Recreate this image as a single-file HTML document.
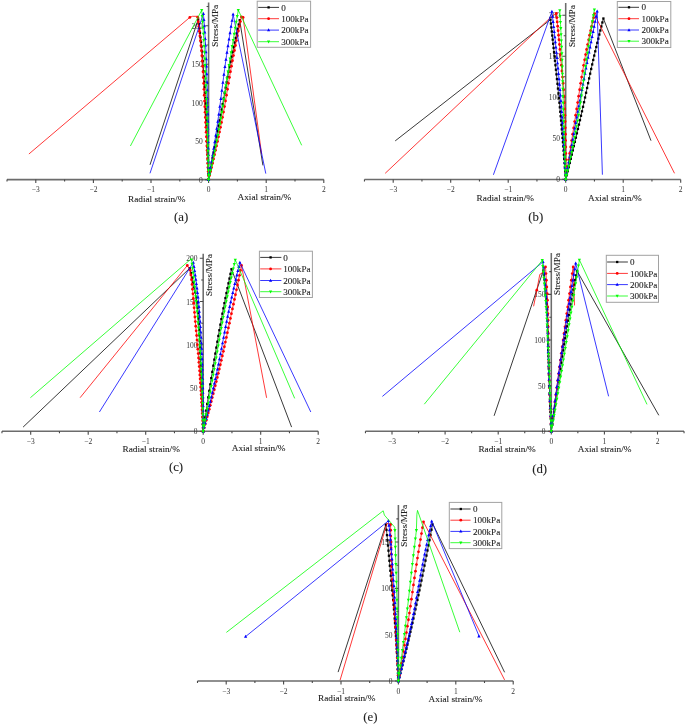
<!DOCTYPE html>
<html><head><meta charset="utf-8"><title>Stress-strain curves</title>
<style>
html,body{margin:0;padding:0;background:#fff;}
body{width:685px;height:726px;overflow:hidden;}
svg{display:block;will-change:transform;}
svg text{font-family:"Liberation Serif",serif;fill:#222;stroke:#222;stroke-width:0.1px;}
svg text.t{stroke:none;fill:#333;}
</style></head><body>
<svg width="685" height="726" viewBox="0 0 685 726">
<rect width="685" height="726" fill="#fff"/>
<g id="plot-a"><path d="M7 179.6H323.8M208.6 179.6V2.6" stroke="#6c6c6c" stroke-width="1.55" fill="none"/>
<path d="M7 179.6v2M35.8 179.6v3.4M64.6 179.6v2M93.4 179.6v3.4M122.2 179.6v2M151 179.6v3.4M179.8 179.6v2M208.6 179.6v3.4M237.4 179.6v2M266.2 179.6v3.4M295 179.6v2M323.8 179.6v3.4M208.6 179.6h-3.4M208.6 160.38h-2M208.6 141.15h-3.4M208.6 121.92h-2M208.6 102.7h-3.4M208.6 83.47h-2M208.6 64.25h-3.4M208.6 45.02h-2M208.6 25.8h-3.4M208.6 6.57h-2" stroke="#484848" stroke-width="1.1" fill="none"/>
<text x="35.8" y="192.2" class="t" font-size="7.5" text-anchor="middle">−3</text>
<text x="93.4" y="192.2" class="t" font-size="7.5" text-anchor="middle">−2</text>
<text x="151" y="192.2" class="t" font-size="7.5" text-anchor="middle">−1</text>
<text x="208.6" y="192.2" class="t" font-size="7.5" text-anchor="middle">0</text>
<text x="266.2" y="192.2" class="t" font-size="7.5" text-anchor="middle">1</text>
<text x="323.8" y="192.2" class="t" font-size="7.5" text-anchor="middle">2</text>
<text x="202.8" y="182.65" class="t" font-size="7.5" text-anchor="end">0</text>
<text x="202.8" y="144.2" class="t" font-size="7.5" text-anchor="end">50</text>
<text x="202.8" y="105.75" class="t" font-size="7.5" text-anchor="end">100</text>
<text x="202.8" y="67.3" class="t" font-size="7.5" text-anchor="end">150</text>
<text x="202.8" y="28.85" class="t" font-size="7.5" text-anchor="end">200</text>
<text x="185.4" y="201.5" font-size="9.28" text-anchor="end">Radial strain/%</text>
<text x="237.5" y="200" font-size="9.28">Axial strain/%</text>
<text transform="translate(217.9 4.8) rotate(-90)" font-size="9.2" text-anchor="end">Stress/MPa</text>
<text x="181.2" y="220.6" font-size="12.8" text-anchor="middle">(a)</text>
<path d="M208.6 179.6L208.52 176.93L208.44 174.26L208.36 171.59L208.27 168.93L208.18 166.26L208.09 163.59L208 160.92L207.9 158.25L207.8 155.59L207.7 152.92L207.6 150.25L207.49 147.58L207.39 144.91L207.28 142.24L207.17 139.57L207.05 136.91L206.94 134.24L206.82 131.57L206.71 128.9L206.59 126.23L206.46 123.56L206.34 120.9L206.22 118.23L206.09 115.56L205.97 112.89L205.84 110.22L205.71 107.55L205.58 104.89L205.44 102.22L205.31 99.55L205.17 96.88L205.02 94.21L204.88 91.54L204.73 88.88L204.57 86.21L204.42 83.54L204.25 80.87L204.09 78.2L203.92 75.53L203.74 72.87L203.56 70.2L203.37 67.53L203.17 64.86L202.97 62.19L202.76 59.53L202.54 56.86L202.3 54.19L202.05 51.52L201.79 48.85L201.51 46.18L201.22 43.52L200.92 40.85L200.6 38.18L200.28 35.51L199.95 32.84L199.61 30.17L199.27 27.5L198.92 24.84L198.56 22.17L198.2 19.5L150 164.8" stroke="#000000" stroke-width="0.78" fill="none" stroke-linejoin="round"/>
<path d="M208.6 179.6L209.09 176.94L209.58 174.29L210.08 171.63L210.57 168.97L211.06 166.32L211.56 163.66L212.05 161L212.54 158.35L213.04 155.69L213.53 153.03L214.03 150.38L214.52 147.72L215.02 145.06L215.51 142.41L216.01 139.75L216.5 137.09L217 134.44L217.5 131.78L217.99 129.12L218.49 126.47L218.99 123.81L219.48 121.15L219.98 118.5L220.48 115.84L220.97 113.18L221.46 110.53L221.95 107.87L222.43 105.21L222.92 102.56L223.41 99.9L223.9 97.24L224.38 94.59L224.87 91.93L225.36 89.27L225.86 86.62L226.35 83.96L226.85 81.3L227.35 78.65L227.86 75.99L228.37 73.33L228.88 70.68L229.4 68.02L229.92 65.36L230.45 62.71L230.99 60.05L231.53 57.39L232.08 54.74L232.64 52.08L233.2 49.42L233.77 46.77L234.34 44.11L234.92 41.45L235.5 38.8L236.09 36.14L236.68 33.48L237.28 30.83L237.88 28.17L238.48 25.51L239.09 22.86L239.7 20.2L262.9 165.4" stroke="#000000" stroke-width="0.78" fill="none" stroke-linejoin="round"/>
<rect x="207.45" y="178.45" width="2.3" height="2.3" fill="#000000"/>
<rect x="207.45" y="178.45" width="2.3" height="2.3" fill="#000000"/>
<rect x="208.45" y="173.04" width="2.3" height="2.3" fill="#000000"/>
<rect x="207.29" y="173.01" width="2.3" height="2.3" fill="#000000"/>
<rect x="209.46" y="167.63" width="2.3" height="2.3" fill="#000000"/>
<rect x="207.11" y="167.58" width="2.3" height="2.3" fill="#000000"/>
<rect x="210.46" y="162.22" width="2.3" height="2.3" fill="#000000"/>
<rect x="206.93" y="162.15" width="2.3" height="2.3" fill="#000000"/>
<rect x="211.46" y="156.83" width="2.3" height="2.3" fill="#000000"/>
<rect x="206.74" y="156.73" width="2.3" height="2.3" fill="#000000"/>
<rect x="212.47" y="151.43" width="2.3" height="2.3" fill="#000000"/>
<rect x="206.53" y="151.32" width="2.3" height="2.3" fill="#000000"/>
<rect x="213.47" y="146.05" width="2.3" height="2.3" fill="#000000"/>
<rect x="206.32" y="145.90" width="2.3" height="2.3" fill="#000000"/>
<rect x="214.47" y="140.67" width="2.3" height="2.3" fill="#000000"/>
<rect x="206.10" y="140.50" width="2.3" height="2.3" fill="#000000"/>
<rect x="215.48" y="135.29" width="2.3" height="2.3" fill="#000000"/>
<rect x="205.88" y="135.10" width="2.3" height="2.3" fill="#000000"/>
<rect x="216.48" y="129.92" width="2.3" height="2.3" fill="#000000"/>
<rect x="205.64" y="129.71" width="2.3" height="2.3" fill="#000000"/>
<rect x="217.48" y="124.55" width="2.3" height="2.3" fill="#000000"/>
<rect x="205.40" y="124.32" width="2.3" height="2.3" fill="#000000"/>
<rect x="218.49" y="119.19" width="2.3" height="2.3" fill="#000000"/>
<rect x="205.15" y="118.93" width="2.3" height="2.3" fill="#000000"/>
<rect x="219.49" y="113.81" width="2.3" height="2.3" fill="#000000"/>
<rect x="204.90" y="113.53" width="2.3" height="2.3" fill="#000000"/>
<rect x="220.49" y="108.38" width="2.3" height="2.3" fill="#000000"/>
<rect x="204.64" y="108.07" width="2.3" height="2.3" fill="#000000"/>
<rect x="221.50" y="102.92" width="2.3" height="2.3" fill="#000000"/>
<rect x="204.37" y="102.58" width="2.3" height="2.3" fill="#000000"/>
<rect x="222.50" y="97.44" width="2.3" height="2.3" fill="#000000"/>
<rect x="204.09" y="97.09" width="2.3" height="2.3" fill="#000000"/>
<rect x="223.50" y="91.98" width="2.3" height="2.3" fill="#000000"/>
<rect x="203.79" y="91.60" width="2.3" height="2.3" fill="#000000"/>
<rect x="224.50" y="86.55" width="2.3" height="2.3" fill="#000000"/>
<rect x="203.49" y="86.15" width="2.3" height="2.3" fill="#000000"/>
<rect x="225.51" y="81.17" width="2.3" height="2.3" fill="#000000"/>
<rect x="203.17" y="80.75" width="2.3" height="2.3" fill="#000000"/>
<rect x="226.51" y="75.86" width="2.3" height="2.3" fill="#000000"/>
<rect x="202.83" y="75.41" width="2.3" height="2.3" fill="#000000"/>
<rect x="227.51" y="70.63" width="2.3" height="2.3" fill="#000000"/>
<rect x="202.48" y="70.16" width="2.3" height="2.3" fill="#000000"/>
<rect x="228.52" y="65.50" width="2.3" height="2.3" fill="#000000"/>
<rect x="202.12" y="65.00" width="2.3" height="2.3" fill="#000000"/>
<rect x="229.52" y="60.47" width="2.3" height="2.3" fill="#000000"/>
<rect x="201.74" y="59.96" width="2.3" height="2.3" fill="#000000"/>
<rect x="230.52" y="55.56" width="2.3" height="2.3" fill="#000000"/>
<rect x="201.33" y="55.02" width="2.3" height="2.3" fill="#000000"/>
<rect x="231.53" y="50.75" width="2.3" height="2.3" fill="#000000"/>
<rect x="200.88" y="50.18" width="2.3" height="2.3" fill="#000000"/>
<rect x="232.53" y="46.02" width="2.3" height="2.3" fill="#000000"/>
<rect x="200.40" y="45.44" width="2.3" height="2.3" fill="#000000"/>
<rect x="233.53" y="41.38" width="2.3" height="2.3" fill="#000000"/>
<rect x="199.89" y="40.77" width="2.3" height="2.3" fill="#000000"/>
<rect x="234.54" y="36.80" width="2.3" height="2.3" fill="#000000"/>
<rect x="199.35" y="36.18" width="2.3" height="2.3" fill="#000000"/>
<rect x="235.54" y="32.29" width="2.3" height="2.3" fill="#000000"/>
<rect x="198.80" y="31.65" width="2.3" height="2.3" fill="#000000"/>
<rect x="236.54" y="27.83" width="2.3" height="2.3" fill="#000000"/>
<rect x="198.22" y="27.17" width="2.3" height="2.3" fill="#000000"/>
<rect x="237.55" y="23.42" width="2.3" height="2.3" fill="#000000"/>
<rect x="197.64" y="22.74" width="2.3" height="2.3" fill="#000000"/>
<rect x="238.55" y="19.05" width="2.3" height="2.3" fill="#000000"/>
<rect x="197.05" y="18.35" width="2.3" height="2.3" fill="#000000"/>
<path d="M208.6 179.6L208.46 176.89L208.33 174.19L208.19 171.48L208.05 168.77L207.91 166.07L207.77 163.36L207.63 160.65L207.49 157.95L207.35 155.24L207.21 152.53L207.07 149.83L206.93 147.12L206.79 144.41L206.65 141.71L206.51 139L206.36 136.29L206.22 133.59L206.08 130.88L205.94 128.17L205.79 125.47L205.65 122.76L205.5 120.05L205.36 117.35L205.22 114.64L205.08 111.93L204.95 109.23L204.81 106.52L204.68 103.81L204.55 101.11L204.42 98.4L204.28 95.69L204.15 92.99L204.01 90.28L203.88 87.57L203.73 84.87L203.59 82.16L203.44 79.45L203.29 76.75L203.13 74.04L202.96 71.33L202.79 68.63L202.62 65.92L202.43 63.21L202.24 60.51L202.03 57.8L201.82 55.09L201.59 52.39L201.34 49.68L201.09 46.97L200.82 44.27L200.54 41.56L200.26 38.85L199.96 36.15L199.66 33.44L199.35 30.73L199.03 28.03L198.7 25.32L198.37 22.61L198.04 19.91L197.7 17.2L197.4 16.3L192.4 16.3L189.8 17.4L28.9 154" stroke="#ff0000" stroke-width="0.78" fill="none" stroke-linejoin="round"/>
<path d="M208.6 179.6L209.27 176.89L209.94 174.18L210.6 171.47L211.25 168.76L211.9 166.05L212.55 163.34L213.19 160.63L213.82 157.92L214.45 155.21L215.07 152.5L215.68 149.79L216.29 147.08L216.89 144.37L217.49 141.66L218.08 138.95L218.66 136.24L219.23 133.53L219.8 130.82L220.36 128.11L220.92 125.4L221.46 122.69L222 119.98L222.53 117.27L223.05 114.56L223.56 111.85L224.05 109.14L224.54 106.43L225.02 103.72L225.49 101.01L225.95 98.3L226.41 95.59L226.87 92.88L227.33 90.17L227.78 87.46L228.24 84.75L228.69 82.04L229.15 79.33L229.62 76.62L230.08 73.91L230.56 71.2L231.04 68.49L231.52 65.78L232.02 63.07L232.53 60.36L233.05 57.65L233.57 54.94L234.1 52.23L234.64 49.52L235.18 46.81L235.72 44.1L236.27 41.39L236.82 38.68L237.38 35.97L237.94 33.26L238.51 30.55L239.08 27.84L239.66 25.13L240.23 22.42L240.82 19.71L241.4 17L243.1 17.4L261.6 154" stroke="#ff0000" stroke-width="0.78" fill="none" stroke-linejoin="round"/>
<circle cx="208.60" cy="179.60" r="1.4" fill="#ff0000"/>
<circle cx="208.60" cy="179.60" r="1.4" fill="#ff0000"/>
<circle cx="209.59" cy="175.58" r="1.4" fill="#ff0000"/>
<circle cx="208.40" cy="175.59" r="1.4" fill="#ff0000"/>
<circle cx="210.59" cy="171.52" r="1.4" fill="#ff0000"/>
<circle cx="208.19" cy="171.53" r="1.4" fill="#ff0000"/>
<circle cx="211.58" cy="167.40" r="1.4" fill="#ff0000"/>
<circle cx="207.98" cy="167.41" r="1.4" fill="#ff0000"/>
<circle cx="212.58" cy="163.23" r="1.4" fill="#ff0000"/>
<circle cx="207.77" cy="163.25" r="1.4" fill="#ff0000"/>
<circle cx="213.57" cy="159.00" r="1.4" fill="#ff0000"/>
<circle cx="207.55" cy="159.02" r="1.4" fill="#ff0000"/>
<circle cx="214.56" cy="154.70" r="1.4" fill="#ff0000"/>
<circle cx="207.33" cy="154.73" r="1.4" fill="#ff0000"/>
<circle cx="215.56" cy="150.34" r="1.4" fill="#ff0000"/>
<circle cx="207.10" cy="150.38" r="1.4" fill="#ff0000"/>
<circle cx="216.55" cy="145.91" r="1.4" fill="#ff0000"/>
<circle cx="206.87" cy="145.95" r="1.4" fill="#ff0000"/>
<circle cx="217.55" cy="141.39" r="1.4" fill="#ff0000"/>
<circle cx="206.64" cy="141.44" r="1.4" fill="#ff0000"/>
<circle cx="218.54" cy="136.79" r="1.4" fill="#ff0000"/>
<circle cx="206.39" cy="136.85" r="1.4" fill="#ff0000"/>
<circle cx="219.53" cy="132.10" r="1.4" fill="#ff0000"/>
<circle cx="206.15" cy="132.16" r="1.4" fill="#ff0000"/>
<circle cx="220.53" cy="127.31" r="1.4" fill="#ff0000"/>
<circle cx="205.89" cy="127.37" r="1.4" fill="#ff0000"/>
<circle cx="221.52" cy="122.40" r="1.4" fill="#ff0000"/>
<circle cx="205.63" cy="122.48" r="1.4" fill="#ff0000"/>
<circle cx="222.52" cy="117.36" r="1.4" fill="#ff0000"/>
<circle cx="205.36" cy="117.44" r="1.4" fill="#ff0000"/>
<circle cx="223.51" cy="112.10" r="1.4" fill="#ff0000"/>
<circle cx="205.10" cy="112.19" r="1.4" fill="#ff0000"/>
<circle cx="224.50" cy="106.62" r="1.4" fill="#ff0000"/>
<circle cx="204.82" cy="106.71" r="1.4" fill="#ff0000"/>
<circle cx="225.50" cy="100.95" r="1.4" fill="#ff0000"/>
<circle cx="204.55" cy="101.05" r="1.4" fill="#ff0000"/>
<circle cx="226.49" cy="95.13" r="1.4" fill="#ff0000"/>
<circle cx="204.26" cy="95.24" r="1.4" fill="#ff0000"/>
<circle cx="227.48" cy="89.23" r="1.4" fill="#ff0000"/>
<circle cx="203.97" cy="89.34" r="1.4" fill="#ff0000"/>
<circle cx="228.48" cy="83.32" r="1.4" fill="#ff0000"/>
<circle cx="203.66" cy="83.43" r="1.4" fill="#ff0000"/>
<circle cx="229.47" cy="77.45" r="1.4" fill="#ff0000"/>
<circle cx="203.33" cy="77.58" r="1.4" fill="#ff0000"/>
<circle cx="230.47" cy="71.71" r="1.4" fill="#ff0000"/>
<circle cx="203.00" cy="71.84" r="1.4" fill="#ff0000"/>
<circle cx="231.46" cy="66.13" r="1.4" fill="#ff0000"/>
<circle cx="202.64" cy="66.27" r="1.4" fill="#ff0000"/>
<circle cx="232.45" cy="60.77" r="1.4" fill="#ff0000"/>
<circle cx="202.27" cy="60.91" r="1.4" fill="#ff0000"/>
<circle cx="233.45" cy="55.58" r="1.4" fill="#ff0000"/>
<circle cx="201.87" cy="55.74" r="1.4" fill="#ff0000"/>
<circle cx="234.44" cy="50.50" r="1.4" fill="#ff0000"/>
<circle cx="201.43" cy="50.66" r="1.4" fill="#ff0000"/>
<circle cx="235.44" cy="45.51" r="1.4" fill="#ff0000"/>
<circle cx="200.96" cy="45.68" r="1.4" fill="#ff0000"/>
<circle cx="236.43" cy="40.60" r="1.4" fill="#ff0000"/>
<circle cx="200.46" cy="40.77" r="1.4" fill="#ff0000"/>
<circle cx="237.42" cy="35.77" r="1.4" fill="#ff0000"/>
<circle cx="199.94" cy="35.94" r="1.4" fill="#ff0000"/>
<circle cx="238.42" cy="30.99" r="1.4" fill="#ff0000"/>
<circle cx="199.40" cy="31.18" r="1.4" fill="#ff0000"/>
<circle cx="239.41" cy="26.28" r="1.4" fill="#ff0000"/>
<circle cx="198.84" cy="26.47" r="1.4" fill="#ff0000"/>
<circle cx="240.41" cy="21.62" r="1.4" fill="#ff0000"/>
<circle cx="198.28" cy="21.81" r="1.4" fill="#ff0000"/>
<circle cx="241.40" cy="17.00" r="1.4" fill="#ff0000"/>
<circle cx="197.70" cy="17.20" r="1.4" fill="#ff0000"/>
<circle cx="189.80" cy="17.40" r="1.4" fill="#ff0000"/>
<circle cx="243.10" cy="17.40" r="1.4" fill="#ff0000"/>
<path d="M208.6 179.6L208.58 176.84L208.55 174.07L208.53 171.31L208.5 168.54L208.47 165.78L208.44 163.01L208.41 160.25L208.37 157.48L208.34 154.72L208.3 151.95L208.26 149.19L208.23 146.42L208.18 143.66L208.14 140.89L208.1 138.12L208.06 135.36L208.01 132.59L207.97 129.83L207.92 127.06L207.87 124.3L207.83 121.53L207.78 118.77L207.73 116L207.68 113.24L207.63 110.47L207.57 107.71L207.52 104.94L207.46 102.18L207.41 99.41L207.35 96.65L207.28 93.88L207.22 91.12L207.15 88.35L207.08 85.59L207.01 82.82L206.94 80.06L206.86 77.29L206.78 74.53L206.69 71.76L206.61 69L206.52 66.23L206.42 63.47L206.33 60.7L206.22 57.94L206.11 55.17L205.98 52.41L205.84 49.64L205.7 46.88L205.54 44.11L205.38 41.35L205.21 38.58L205.03 35.82L204.84 33.06L204.65 30.29L204.45 27.53L204.25 24.76L204.04 22L203.83 19.23L203.62 16.47L203.4 13.7L150 173.3" stroke="#0000ff" stroke-width="0.78" fill="none" stroke-linejoin="round"/>
<path d="M208.6 179.6L209.07 176.85L209.53 174.09L210 171.34L210.46 168.59L210.91 165.83L211.36 163.08L211.81 160.33L212.26 157.57L212.7 154.82L213.14 152.07L213.58 149.31L214.01 146.56L214.44 143.81L214.87 141.05L215.29 138.3L215.71 135.55L216.12 132.79L216.53 130.04L216.94 127.29L217.34 124.53L217.74 121.78L218.14 119.03L218.53 116.27L218.91 113.52L219.28 110.77L219.65 108.01L220.01 105.26L220.36 102.51L220.71 99.75L221.06 97L221.41 94.25L221.76 91.49L222.1 88.74L222.45 85.99L222.8 83.23L223.15 80.48L223.5 77.73L223.86 74.97L224.22 72.22L224.58 69.47L224.96 66.71L225.34 63.96L225.73 61.21L226.12 58.45L226.53 55.7L226.93 52.95L227.35 50.19L227.76 47.44L228.19 44.69L228.61 41.93L229.04 39.18L229.48 36.43L229.92 33.67L230.36 30.92L230.81 28.17L231.26 25.41L231.72 22.66L232.17 19.91L232.64 17.15L233.1 14.4L265.8 173.6" stroke="#0000ff" stroke-width="0.78" fill="none" stroke-linejoin="round"/>
<path d="M208.60 177.76L210.20 180.80L207.00 180.80Z" fill="#0000ff"/>
<path d="M208.60 177.76L210.20 180.80L207.00 180.80Z" fill="#0000ff"/>
<path d="M209.62 171.74L211.22 174.78L208.02 174.78Z" fill="#0000ff"/>
<path d="M208.55 171.71L210.15 174.75L206.95 174.75Z" fill="#0000ff"/>
<path d="M210.64 165.63L212.24 168.67L209.04 168.67Z" fill="#0000ff"/>
<path d="M208.49 165.57L210.09 168.61L206.89 168.61Z" fill="#0000ff"/>
<path d="M211.66 159.42L213.26 162.46L210.06 162.46Z" fill="#0000ff"/>
<path d="M208.42 159.34L210.02 162.38L206.82 162.38Z" fill="#0000ff"/>
<path d="M212.68 153.11L214.28 156.15L211.08 156.15Z" fill="#0000ff"/>
<path d="M208.34 153.00L209.94 156.04L206.74 156.04Z" fill="#0000ff"/>
<path d="M213.70 146.68L215.30 149.72L212.10 149.72Z" fill="#0000ff"/>
<path d="M208.25 146.55L209.85 149.59L206.65 149.59Z" fill="#0000ff"/>
<path d="M214.72 140.13L216.32 143.17L213.12 143.17Z" fill="#0000ff"/>
<path d="M208.16 139.97L209.76 143.01L206.56 143.01Z" fill="#0000ff"/>
<path d="M215.75 133.45L217.35 136.49L214.15 136.49Z" fill="#0000ff"/>
<path d="M208.05 133.26L209.65 136.30L206.45 136.30Z" fill="#0000ff"/>
<path d="M216.77 126.63L218.37 129.67L215.17 129.67Z" fill="#0000ff"/>
<path d="M207.94 126.41L209.54 129.45L206.34 129.45Z" fill="#0000ff"/>
<path d="M217.79 119.64L219.39 122.68L216.19 122.68Z" fill="#0000ff"/>
<path d="M207.82 119.39L209.42 122.43L206.22 122.43Z" fill="#0000ff"/>
<path d="M218.81 112.40L220.41 115.44L217.21 115.44Z" fill="#0000ff"/>
<path d="M207.69 112.12L209.29 115.16L206.09 115.16Z" fill="#0000ff"/>
<path d="M219.83 104.78L221.43 107.82L218.23 107.82Z" fill="#0000ff"/>
<path d="M207.55 104.47L209.15 107.51L205.95 107.51Z" fill="#0000ff"/>
<path d="M220.85 96.85L222.45 99.89L219.25 99.89Z" fill="#0000ff"/>
<path d="M207.38 96.51L208.98 99.55L205.78 99.55Z" fill="#0000ff"/>
<path d="M221.87 88.75L223.47 91.79L220.27 91.79Z" fill="#0000ff"/>
<path d="M207.20 88.37L208.80 91.41L205.60 91.41Z" fill="#0000ff"/>
<path d="M222.89 80.65L224.49 83.69L221.29 83.69Z" fill="#0000ff"/>
<path d="M206.99 80.24L208.59 83.28L205.39 83.28Z" fill="#0000ff"/>
<path d="M223.91 72.70L225.51 75.74L222.31 75.74Z" fill="#0000ff"/>
<path d="M206.77 72.26L208.37 75.30L205.17 75.30Z" fill="#0000ff"/>
<path d="M224.93 65.05L226.53 68.09L223.33 68.09Z" fill="#0000ff"/>
<path d="M206.52 64.57L208.12 67.61L204.92 67.61Z" fill="#0000ff"/>
<path d="M225.95 57.78L227.55 60.82L224.35 60.82Z" fill="#0000ff"/>
<path d="M206.27 57.28L207.87 60.32L204.67 60.32Z" fill="#0000ff"/>
<path d="M226.97 50.83L228.57 53.87L225.37 53.87Z" fill="#0000ff"/>
<path d="M205.97 50.29L207.57 53.33L204.37 53.33Z" fill="#0000ff"/>
<path d="M228.00 44.09L229.60 47.13L226.40 47.13Z" fill="#0000ff"/>
<path d="M205.61 43.52L207.21 46.56L204.01 46.56Z" fill="#0000ff"/>
<path d="M229.02 37.52L230.62 40.56L227.42 40.56Z" fill="#0000ff"/>
<path d="M205.22 36.92L206.82 39.96L203.62 39.96Z" fill="#0000ff"/>
<path d="M230.04 31.10L231.64 34.14L228.44 34.14Z" fill="#0000ff"/>
<path d="M204.79 30.48L206.39 33.52L203.19 33.52Z" fill="#0000ff"/>
<path d="M231.06 24.81L232.66 27.85L229.46 27.85Z" fill="#0000ff"/>
<path d="M204.34 24.16L205.94 27.20L202.74 27.20Z" fill="#0000ff"/>
<path d="M232.08 18.64L233.68 21.68L230.48 21.68Z" fill="#0000ff"/>
<path d="M203.88 17.96L205.48 21.00L202.28 21.00Z" fill="#0000ff"/>
<path d="M233.10 12.56L234.70 15.60L231.50 15.60Z" fill="#0000ff"/>
<path d="M203.40 11.86L205.00 14.90L201.80 14.90Z" fill="#0000ff"/>
<path d="M208.6 179.6L208.54 176.78L208.49 173.95L208.43 171.13L208.37 168.31L208.3 165.48L208.24 162.66L208.17 159.84L208.11 157.01L208.04 154.19L207.97 151.37L207.9 148.54L207.82 145.72L207.75 142.9L207.67 140.07L207.6 137.25L207.52 134.43L207.44 131.6L207.36 128.78L207.28 125.96L207.19 123.13L207.11 120.31L207.02 117.49L206.94 114.66L206.85 111.84L206.76 109.02L206.68 106.19L206.58 103.37L206.49 100.55L206.4 97.72L206.3 94.9L206.2 92.08L206.1 89.25L206 86.43L205.89 83.61L205.79 80.78L205.68 77.96L205.56 75.14L205.45 72.31L205.33 69.49L205.2 66.67L205.08 63.84L204.95 61.02L204.81 58.2L204.67 55.37L204.53 52.55L204.37 49.73L204.21 46.9L204.05 44.08L203.88 41.26L203.7 38.43L203.52 35.61L203.33 32.79L203.14 29.96L202.95 27.14L202.75 24.32L202.54 21.49L202.34 18.67L202.13 15.85L201.92 13.02L201.7 10.2L130.4 146" stroke="#00ff00" stroke-width="0.78" fill="none" stroke-linejoin="round"/>
<path d="M208.6 179.6L209.23 176.78L209.86 173.95L210.48 171.13L211.09 168.31L211.7 165.48L212.3 162.66L212.9 159.84L213.49 157.01L214.07 154.19L214.65 151.37L215.22 148.54L215.78 145.72L216.34 142.9L216.89 140.07L217.44 137.25L217.97 134.43L218.5 131.6L219.02 128.78L219.54 125.96L220.05 123.13L220.55 120.31L221.04 117.49L221.51 114.66L221.98 111.84L222.44 109.02L222.89 106.19L223.33 103.37L223.77 100.55L224.2 97.72L224.62 94.9L225.04 92.08L225.46 89.25L225.88 86.43L226.3 83.61L226.71 80.78L227.13 77.96L227.55 75.14L227.98 72.31L228.41 69.49L228.84 66.67L229.29 63.84L229.74 61.02L230.19 58.2L230.65 55.37L231.11 52.55L231.58 49.73L232.04 46.9L232.51 44.08L232.98 41.26L233.46 38.43L233.93 35.61L234.41 32.79L234.89 29.96L235.37 27.14L235.85 24.32L236.34 21.49L236.83 18.67L237.32 15.85L237.81 13.02L238.3 10.2L301.7 145.3" stroke="#00ff00" stroke-width="0.78" fill="none" stroke-linejoin="round"/>
<path d="M208.60 181.44L210.20 178.40L207.00 178.40Z" fill="#00ff00"/>
<path d="M208.60 181.44L210.20 178.40L207.00 178.40Z" fill="#00ff00"/>
<path d="M209.62 176.84L211.22 173.80L208.02 173.80Z" fill="#00ff00"/>
<path d="M208.51 176.84L210.11 173.80L206.91 173.80Z" fill="#00ff00"/>
<path d="M210.65 172.18L212.25 169.14L209.05 169.14Z" fill="#00ff00"/>
<path d="M208.41 172.18L210.01 169.14L206.81 169.14Z" fill="#00ff00"/>
<path d="M211.67 167.45L213.27 164.41L210.07 164.41Z" fill="#00ff00"/>
<path d="M208.31 167.45L209.91 164.41L206.71 164.41Z" fill="#00ff00"/>
<path d="M212.70 162.63L214.30 159.59L211.10 159.59Z" fill="#00ff00"/>
<path d="M208.20 162.63L209.80 159.59L206.60 159.59Z" fill="#00ff00"/>
<path d="M213.72 157.73L215.32 154.69L212.12 154.69Z" fill="#00ff00"/>
<path d="M208.08 157.73L209.68 154.69L206.48 154.69Z" fill="#00ff00"/>
<path d="M214.74 152.74L216.34 149.70L213.14 149.70Z" fill="#00ff00"/>
<path d="M207.96 152.74L209.56 149.70L206.36 149.70Z" fill="#00ff00"/>
<path d="M215.77 147.64L217.37 144.60L214.17 144.60Z" fill="#00ff00"/>
<path d="M207.82 147.64L209.42 144.60L206.22 144.60Z" fill="#00ff00"/>
<path d="M216.79 142.43L218.39 139.39L215.19 139.39Z" fill="#00ff00"/>
<path d="M207.69 142.43L209.29 139.39L206.09 139.39Z" fill="#00ff00"/>
<path d="M217.82 137.09L219.42 134.05L216.22 134.05Z" fill="#00ff00"/>
<path d="M207.54 137.09L209.14 134.05L205.94 134.05Z" fill="#00ff00"/>
<path d="M218.84 131.62L220.44 128.58L217.24 128.58Z" fill="#00ff00"/>
<path d="M207.39 131.62L208.99 128.58L205.79 128.58Z" fill="#00ff00"/>
<path d="M219.87 125.98L221.47 122.94L218.27 122.94Z" fill="#00ff00"/>
<path d="M207.22 125.98L208.82 122.94L205.62 122.94Z" fill="#00ff00"/>
<path d="M220.89 120.17L222.49 117.13L219.29 117.13Z" fill="#00ff00"/>
<path d="M207.05 120.17L208.65 117.13L205.45 117.13Z" fill="#00ff00"/>
<path d="M221.91 114.09L223.51 111.05L220.31 111.05Z" fill="#00ff00"/>
<path d="M206.87 114.09L208.47 111.05L205.27 111.05Z" fill="#00ff00"/>
<path d="M222.94 107.72L224.54 104.68L221.34 104.68Z" fill="#00ff00"/>
<path d="M206.67 107.72L208.27 104.68L205.07 104.68Z" fill="#00ff00"/>
<path d="M223.96 101.10L225.56 98.06L222.36 98.06Z" fill="#00ff00"/>
<path d="M206.45 101.10L208.05 98.06L204.85 98.06Z" fill="#00ff00"/>
<path d="M224.99 94.29L226.59 91.25L223.39 91.25Z" fill="#00ff00"/>
<path d="M206.22 94.29L207.82 91.25L204.62 91.25Z" fill="#00ff00"/>
<path d="M226.01 87.38L227.61 84.34L224.41 84.34Z" fill="#00ff00"/>
<path d="M205.97 87.38L207.57 84.34L204.37 84.34Z" fill="#00ff00"/>
<path d="M227.03 80.46L228.63 77.42L225.43 77.42Z" fill="#00ff00"/>
<path d="M205.70 80.46L207.30 77.42L204.10 77.42Z" fill="#00ff00"/>
<path d="M228.06 73.63L229.66 70.59L226.46 70.59Z" fill="#00ff00"/>
<path d="M205.42 73.63L207.02 70.59L203.82 70.59Z" fill="#00ff00"/>
<path d="M229.08 66.98L230.68 63.94L227.48 63.94Z" fill="#00ff00"/>
<path d="M205.14 66.98L206.74 63.94L203.54 63.94Z" fill="#00ff00"/>
<path d="M230.11 60.56L231.71 57.52L228.51 57.52Z" fill="#00ff00"/>
<path d="M204.84 60.56L206.44 57.52L203.24 57.52Z" fill="#00ff00"/>
<path d="M231.13 54.28L232.73 51.24L229.53 51.24Z" fill="#00ff00"/>
<path d="M204.52 54.28L206.12 51.24L202.92 51.24Z" fill="#00ff00"/>
<path d="M232.16 48.07L233.76 45.03L230.56 45.03Z" fill="#00ff00"/>
<path d="M204.17 48.07L205.77 45.03L202.57 45.03Z" fill="#00ff00"/>
<path d="M233.18 41.93L234.78 38.89L231.58 38.89Z" fill="#00ff00"/>
<path d="M203.80 41.93L205.40 38.89L202.20 38.89Z" fill="#00ff00"/>
<path d="M234.20 35.84L235.80 32.80L232.60 32.80Z" fill="#00ff00"/>
<path d="M203.41 35.84L205.01 32.80L201.81 32.80Z" fill="#00ff00"/>
<path d="M235.23 29.82L236.83 26.78L233.63 26.78Z" fill="#00ff00"/>
<path d="M203.00 29.82L204.60 26.78L201.40 26.78Z" fill="#00ff00"/>
<path d="M236.25 23.84L237.85 20.80L234.65 20.80Z" fill="#00ff00"/>
<path d="M202.58 23.84L204.18 20.80L200.98 20.80Z" fill="#00ff00"/>
<path d="M237.28 17.92L238.88 14.88L235.68 14.88Z" fill="#00ff00"/>
<path d="M202.15 17.92L203.75 14.88L200.55 14.88Z" fill="#00ff00"/>
<path d="M238.30 12.04L239.90 9.00L236.70 9.00Z" fill="#00ff00"/>
<path d="M201.70 12.04L203.30 9.00L200.10 9.00Z" fill="#00ff00"/>
<rect x="257.2" y="1.2" width="53.4" height="46.1" fill="#fff" stroke="#a2a2a2" stroke-width="1"/>
<path d="M258.2 7.4H279" stroke="#000000" stroke-width="0.78"/>
<rect x="267.45" y="6.25" width="2.3" height="2.3" fill="#000000"/>
<text x="281.2" y="10.55" font-size="9.12">0</text>
<path d="M258.2 18.7H279" stroke="#ff0000" stroke-width="0.78"/>
<circle cx="268.60" cy="18.70" r="1.4" fill="#ff0000"/>
<text x="281.2" y="21.85" font-size="9.12">100kPa</text>
<path d="M258.2 30.1H279" stroke="#0000ff" stroke-width="0.78"/>
<path d="M268.60 28.26L270.20 31.30L267.00 31.30Z" fill="#0000ff"/>
<text x="281.2" y="33.25" font-size="9.12">200kPa</text>
<path d="M258.2 41.7H279" stroke="#00ff00" stroke-width="0.78"/>
<path d="M268.60 43.54L270.20 40.50L267.00 40.50Z" fill="#00ff00"/>
<text x="281.2" y="44.85" font-size="9.12">300kPa</text></g>
<g id="plot-b"><path d="M364.45 179.4H680.7M565.7 179.4V3.1" stroke="#6c6c6c" stroke-width="1.55" fill="none"/>
<path d="M364.45 179.4v2M393.2 179.4v3.4M421.95 179.4v2M450.7 179.4v3.4M479.45 179.4v2M508.2 179.4v3.4M536.95 179.4v2M565.7 179.4v3.4M594.45 179.4v2M623.2 179.4v3.4M651.95 179.4v2M680.7 179.4v3.4M565.7 179.4h-3.4M565.7 158.88h-2M565.7 138.35h-3.4M565.7 117.83h-2M565.7 97.3h-3.4M565.7 76.78h-2M565.7 56.25h-3.4M565.7 35.73h-2M565.7 15.2h-3.4" stroke="#484848" stroke-width="1.1" fill="none"/>
<text x="393.2" y="192" class="t" font-size="7.5" text-anchor="middle">−3</text>
<text x="450.7" y="192" class="t" font-size="7.5" text-anchor="middle">−2</text>
<text x="508.2" y="192" class="t" font-size="7.5" text-anchor="middle">−1</text>
<text x="565.7" y="192" class="t" font-size="7.5" text-anchor="middle">0</text>
<text x="623.2" y="192" class="t" font-size="7.5" text-anchor="middle">1</text>
<text x="680.7" y="192" class="t" font-size="7.5" text-anchor="middle">2</text>
<text x="559.9" y="182.45" class="t" font-size="7.5" text-anchor="end">0</text>
<text x="559.9" y="141.4" class="t" font-size="7.5" text-anchor="end">50</text>
<text x="559.9" y="100.35" class="t" font-size="7.5" text-anchor="end">100</text>
<text x="559.9" y="59.3" class="t" font-size="7.5" text-anchor="end">150</text>
<text x="559.9" y="18.25" class="t" font-size="7.5" text-anchor="end">200</text>
<text x="534" y="201.3" font-size="9.28" text-anchor="end">Radial strain/%</text>
<text x="588" y="201.2" font-size="9.28">Axial strain/%</text>
<text transform="translate(575 5.2) rotate(-90)" font-size="9.2" text-anchor="end">Stress/MPa</text>
<text x="535.8" y="221.1" font-size="12.8" text-anchor="middle">(b)</text>
<path d="M565.7 179.4L565.52 176.74L565.34 174.07L565.15 171.41L564.96 168.75L564.77 166.08L564.57 163.42L564.37 160.76L564.17 158.09L563.96 155.43L563.76 152.77L563.55 150.1L563.33 147.44L563.12 144.78L562.9 142.11L562.68 139.45L562.46 136.79L562.23 134.12L562 131.46L561.78 128.8L561.54 126.13L561.31 123.47L561.07 120.81L560.84 118.14L560.6 115.48L560.36 112.82L560.11 110.15L559.87 107.49L559.62 104.83L559.36 102.16L559.09 99.5L558.83 96.84L558.55 94.17L558.28 91.51L558 88.85L557.72 86.18L557.44 83.52L557.15 80.86L556.86 78.19L556.58 75.53L556.29 72.87L556 70.2L555.71 67.54L555.42 64.88L555.14 62.21L554.85 59.55L554.57 56.89L554.28 54.22L554 51.56L553.71 48.9L553.42 46.23L553.13 43.57L552.84 40.91L552.55 38.24L552.26 35.58L551.97 32.92L551.68 30.25L551.38 27.59L551.09 24.93L550.8 22.26L550.5 19.6L395.2 140.9" stroke="#000000" stroke-width="0.78" fill="none" stroke-linejoin="round"/>
<path d="M565.7 179.4L566.37 176.72L567.04 174.04L567.71 171.36L568.38 168.67L569.04 165.99L569.7 163.31L570.36 160.63L571.01 157.95L571.66 155.27L572.31 152.58L572.96 149.9L573.6 147.22L574.25 144.54L574.89 141.86L575.52 139.18L576.16 136.49L576.79 133.81L577.42 131.13L578.05 128.45L578.67 125.77L579.3 123.09L579.92 120.4L580.53 117.72L581.15 115.04L581.76 112.36L582.37 109.68L582.98 107L583.57 104.31L584.16 101.63L584.75 98.95L585.33 96.27L585.9 93.59L586.47 90.91L587.04 88.22L587.61 85.54L588.18 82.86L588.75 80.18L589.32 77.5L589.9 74.81L590.48 72.13L591.07 69.45L591.66 66.77L592.27 64.09L592.88 61.41L593.5 58.72L594.12 56.04L594.75 53.36L595.39 50.68L596.03 48L596.68 45.32L597.33 42.63L597.99 39.95L598.65 37.27L599.31 34.59L599.99 31.91L600.66 29.23L601.34 26.55L602.02 23.86L602.71 21.18L603.4 18.5L651 140.7" stroke="#000000" stroke-width="0.78" fill="none" stroke-linejoin="round"/>
<rect x="564.55" y="178.25" width="2.3" height="2.3" fill="#000000"/>
<rect x="564.55" y="178.25" width="2.3" height="2.3" fill="#000000"/>
<rect x="565.57" y="174.19" width="2.3" height="2.3" fill="#000000"/>
<rect x="564.28" y="174.21" width="2.3" height="2.3" fill="#000000"/>
<rect x="566.59" y="170.10" width="2.3" height="2.3" fill="#000000"/>
<rect x="563.99" y="170.15" width="2.3" height="2.3" fill="#000000"/>
<rect x="567.61" y="165.99" width="2.3" height="2.3" fill="#000000"/>
<rect x="563.70" y="166.07" width="2.3" height="2.3" fill="#000000"/>
<rect x="568.63" y="161.85" width="2.3" height="2.3" fill="#000000"/>
<rect x="563.40" y="161.96" width="2.3" height="2.3" fill="#000000"/>
<rect x="569.64" y="157.68" width="2.3" height="2.3" fill="#000000"/>
<rect x="563.09" y="157.82" width="2.3" height="2.3" fill="#000000"/>
<rect x="570.66" y="153.50" width="2.3" height="2.3" fill="#000000"/>
<rect x="562.77" y="153.66" width="2.3" height="2.3" fill="#000000"/>
<rect x="571.68" y="149.28" width="2.3" height="2.3" fill="#000000"/>
<rect x="562.44" y="149.48" width="2.3" height="2.3" fill="#000000"/>
<rect x="572.70" y="145.04" width="2.3" height="2.3" fill="#000000"/>
<rect x="562.10" y="145.27" width="2.3" height="2.3" fill="#000000"/>
<rect x="573.72" y="140.77" width="2.3" height="2.3" fill="#000000"/>
<rect x="561.76" y="141.03" width="2.3" height="2.3" fill="#000000"/>
<rect x="574.74" y="136.48" width="2.3" height="2.3" fill="#000000"/>
<rect x="561.40" y="136.77" width="2.3" height="2.3" fill="#000000"/>
<rect x="575.76" y="132.16" width="2.3" height="2.3" fill="#000000"/>
<rect x="561.04" y="132.48" width="2.3" height="2.3" fill="#000000"/>
<rect x="576.78" y="127.81" width="2.3" height="2.3" fill="#000000"/>
<rect x="560.67" y="128.16" width="2.3" height="2.3" fill="#000000"/>
<rect x="577.80" y="123.44" width="2.3" height="2.3" fill="#000000"/>
<rect x="560.29" y="123.82" width="2.3" height="2.3" fill="#000000"/>
<rect x="578.81" y="119.04" width="2.3" height="2.3" fill="#000000"/>
<rect x="559.91" y="119.44" width="2.3" height="2.3" fill="#000000"/>
<rect x="579.83" y="114.61" width="2.3" height="2.3" fill="#000000"/>
<rect x="559.51" y="115.05" width="2.3" height="2.3" fill="#000000"/>
<rect x="580.85" y="110.16" width="2.3" height="2.3" fill="#000000"/>
<rect x="559.11" y="110.62" width="2.3" height="2.3" fill="#000000"/>
<rect x="581.87" y="105.65" width="2.3" height="2.3" fill="#000000"/>
<rect x="558.70" y="106.15" width="2.3" height="2.3" fill="#000000"/>
<rect x="582.89" y="101.05" width="2.3" height="2.3" fill="#000000"/>
<rect x="558.26" y="101.57" width="2.3" height="2.3" fill="#000000"/>
<rect x="583.91" y="96.35" width="2.3" height="2.3" fill="#000000"/>
<rect x="557.80" y="96.91" width="2.3" height="2.3" fill="#000000"/>
<rect x="584.93" y="91.60" width="2.3" height="2.3" fill="#000000"/>
<rect x="557.32" y="92.19" width="2.3" height="2.3" fill="#000000"/>
<rect x="585.95" y="86.81" width="2.3" height="2.3" fill="#000000"/>
<rect x="556.82" y="87.43" width="2.3" height="2.3" fill="#000000"/>
<rect x="586.97" y="82.01" width="2.3" height="2.3" fill="#000000"/>
<rect x="556.32" y="82.67" width="2.3" height="2.3" fill="#000000"/>
<rect x="587.99" y="77.23" width="2.3" height="2.3" fill="#000000"/>
<rect x="555.81" y="77.92" width="2.3" height="2.3" fill="#000000"/>
<rect x="589.00" y="72.49" width="2.3" height="2.3" fill="#000000"/>
<rect x="555.30" y="73.22" width="2.3" height="2.3" fill="#000000"/>
<rect x="590.02" y="67.83" width="2.3" height="2.3" fill="#000000"/>
<rect x="554.80" y="68.59" width="2.3" height="2.3" fill="#000000"/>
<rect x="591.04" y="63.26" width="2.3" height="2.3" fill="#000000"/>
<rect x="554.31" y="64.05" width="2.3" height="2.3" fill="#000000"/>
<rect x="592.06" y="58.80" width="2.3" height="2.3" fill="#000000"/>
<rect x="553.83" y="59.62" width="2.3" height="2.3" fill="#000000"/>
<rect x="593.08" y="54.43" width="2.3" height="2.3" fill="#000000"/>
<rect x="553.37" y="55.28" width="2.3" height="2.3" fill="#000000"/>
<rect x="594.10" y="50.12" width="2.3" height="2.3" fill="#000000"/>
<rect x="552.91" y="51.00" width="2.3" height="2.3" fill="#000000"/>
<rect x="595.12" y="45.87" width="2.3" height="2.3" fill="#000000"/>
<rect x="552.45" y="46.77" width="2.3" height="2.3" fill="#000000"/>
<rect x="596.14" y="41.67" width="2.3" height="2.3" fill="#000000"/>
<rect x="552.00" y="42.60" width="2.3" height="2.3" fill="#000000"/>
<rect x="597.16" y="37.51" width="2.3" height="2.3" fill="#000000"/>
<rect x="551.55" y="38.47" width="2.3" height="2.3" fill="#000000"/>
<rect x="598.17" y="33.40" width="2.3" height="2.3" fill="#000000"/>
<rect x="551.11" y="34.39" width="2.3" height="2.3" fill="#000000"/>
<rect x="599.19" y="29.33" width="2.3" height="2.3" fill="#000000"/>
<rect x="550.67" y="30.35" width="2.3" height="2.3" fill="#000000"/>
<rect x="600.21" y="25.30" width="2.3" height="2.3" fill="#000000"/>
<rect x="550.22" y="26.35" width="2.3" height="2.3" fill="#000000"/>
<rect x="601.23" y="21.31" width="2.3" height="2.3" fill="#000000"/>
<rect x="549.79" y="22.38" width="2.3" height="2.3" fill="#000000"/>
<rect x="602.25" y="17.35" width="2.3" height="2.3" fill="#000000"/>
<rect x="549.35" y="18.45" width="2.3" height="2.3" fill="#000000"/>
<path d="M565.7 179.4L565.76 176.64L565.81 173.87L565.84 171.11L565.87 168.34L565.88 165.58L565.88 162.81L565.87 160.05L565.85 157.28L565.82 154.52L565.79 151.75L565.74 148.99L565.7 146.22L565.64 143.46L565.58 140.69L565.52 137.93L565.45 135.16L565.38 132.4L565.31 129.63L565.23 126.87L565.16 124.1L565.09 121.34L565.01 118.57L564.94 115.81L564.87 113.04L564.81 110.28L564.73 107.51L564.63 104.75L564.49 101.98L564.34 99.22L564.16 96.45L563.97 93.68L563.75 90.92L563.53 88.16L563.29 85.39L563.04 82.62L562.78 79.86L562.51 77.09L562.25 74.33L561.98 71.56L561.71 68.8L561.45 66.03L561.19 63.27L560.94 60.5L560.7 57.74L560.45 54.97L560.2 52.21L559.95 49.44L559.69 46.68L559.43 43.91L559.16 41.15L558.89 38.38L558.61 35.62L558.34 32.86L558.05 30.09L557.77 27.33L557.48 24.56L557.19 21.8L556.9 19.03L556.6 16.27L556.3 13.5L551.5 16.6L385.2 173.3" stroke="#ff0000" stroke-width="0.78" fill="none" stroke-linejoin="round"/>
<path d="M565.7 179.4L566.12 176.64L566.54 173.87L566.96 171.11L567.39 168.35L567.81 165.58L568.23 162.82L568.66 160.06L569.09 157.29L569.51 154.53L569.94 151.77L570.37 149L570.8 146.24L571.23 143.48L571.66 140.71L572.09 137.95L572.53 135.19L572.96 132.42L573.39 129.66L573.83 126.9L574.26 124.13L574.7 121.37L575.14 118.61L575.57 115.84L576.01 113.08L576.45 110.32L576.89 107.55L577.32 104.79L577.75 102.03L578.18 99.26L578.6 96.5L579.03 93.74L579.46 90.97L579.88 88.21L580.32 85.45L580.75 82.68L581.19 79.92L581.64 77.16L582.09 74.39L582.55 71.63L583.02 68.87L583.5 66.1L583.99 63.34L584.49 60.58L585.01 57.81L585.54 55.05L586.07 52.29L586.62 49.52L587.18 46.76L587.75 44L588.33 41.23L588.92 38.47L589.51 35.71L590.12 32.94L590.74 30.18L591.36 27.42L591.99 24.65L592.63 21.89L593.28 19.13L593.94 16.36L594.6 13.6L595.4 16.2L674.5 173.3" stroke="#ff0000" stroke-width="0.78" fill="none" stroke-linejoin="round"/>
<circle cx="565.70" cy="179.40" r="1.4" fill="#ff0000"/>
<circle cx="565.70" cy="179.40" r="1.4" fill="#ff0000"/>
<circle cx="566.70" cy="172.86" r="1.4" fill="#ff0000"/>
<circle cx="565.82" cy="172.85" r="1.4" fill="#ff0000"/>
<circle cx="567.69" cy="166.35" r="1.4" fill="#ff0000"/>
<circle cx="565.88" cy="166.34" r="1.4" fill="#ff0000"/>
<circle cx="568.69" cy="159.86" r="1.4" fill="#ff0000"/>
<circle cx="565.87" cy="159.85" r="1.4" fill="#ff0000"/>
<circle cx="569.69" cy="153.41" r="1.4" fill="#ff0000"/>
<circle cx="565.81" cy="153.40" r="1.4" fill="#ff0000"/>
<circle cx="570.68" cy="146.99" r="1.4" fill="#ff0000"/>
<circle cx="565.71" cy="146.97" r="1.4" fill="#ff0000"/>
<circle cx="571.68" cy="140.59" r="1.4" fill="#ff0000"/>
<circle cx="565.58" cy="140.57" r="1.4" fill="#ff0000"/>
<circle cx="572.68" cy="134.22" r="1.4" fill="#ff0000"/>
<circle cx="565.43" cy="134.20" r="1.4" fill="#ff0000"/>
<circle cx="573.67" cy="127.88" r="1.4" fill="#ff0000"/>
<circle cx="565.26" cy="127.85" r="1.4" fill="#ff0000"/>
<circle cx="574.67" cy="121.56" r="1.4" fill="#ff0000"/>
<circle cx="565.09" cy="121.52" r="1.4" fill="#ff0000"/>
<circle cx="575.67" cy="115.26" r="1.4" fill="#ff0000"/>
<circle cx="564.93" cy="115.22" r="1.4" fill="#ff0000"/>
<circle cx="576.66" cy="108.98" r="1.4" fill="#ff0000"/>
<circle cx="564.77" cy="108.94" r="1.4" fill="#ff0000"/>
<circle cx="577.66" cy="102.61" r="1.4" fill="#ff0000"/>
<circle cx="564.52" cy="102.57" r="1.4" fill="#ff0000"/>
<circle cx="578.66" cy="96.16" r="1.4" fill="#ff0000"/>
<circle cx="564.14" cy="96.11" r="1.4" fill="#ff0000"/>
<circle cx="579.65" cy="89.70" r="1.4" fill="#ff0000"/>
<circle cx="563.65" cy="89.65" r="1.4" fill="#ff0000"/>
<circle cx="580.65" cy="83.33" r="1.4" fill="#ff0000"/>
<circle cx="563.09" cy="83.27" r="1.4" fill="#ff0000"/>
<circle cx="581.64" cy="77.10" r="1.4" fill="#ff0000"/>
<circle cx="562.51" cy="77.04" r="1.4" fill="#ff0000"/>
<circle cx="582.64" cy="71.09" r="1.4" fill="#ff0000"/>
<circle cx="561.93" cy="71.02" r="1.4" fill="#ff0000"/>
<circle cx="583.64" cy="65.32" r="1.4" fill="#ff0000"/>
<circle cx="561.38" cy="65.25" r="1.4" fill="#ff0000"/>
<circle cx="584.63" cy="59.81" r="1.4" fill="#ff0000"/>
<circle cx="560.88" cy="59.74" r="1.4" fill="#ff0000"/>
<circle cx="585.63" cy="54.55" r="1.4" fill="#ff0000"/>
<circle cx="560.41" cy="54.48" r="1.4" fill="#ff0000"/>
<circle cx="586.63" cy="49.49" r="1.4" fill="#ff0000"/>
<circle cx="559.94" cy="49.41" r="1.4" fill="#ff0000"/>
<circle cx="587.62" cy="44.60" r="1.4" fill="#ff0000"/>
<circle cx="559.48" cy="44.51" r="1.4" fill="#ff0000"/>
<circle cx="588.62" cy="39.85" r="1.4" fill="#ff0000"/>
<circle cx="559.02" cy="39.76" r="1.4" fill="#ff0000"/>
<circle cx="589.62" cy="35.23" r="1.4" fill="#ff0000"/>
<circle cx="558.57" cy="35.14" r="1.4" fill="#ff0000"/>
<circle cx="590.61" cy="30.72" r="1.4" fill="#ff0000"/>
<circle cx="558.11" cy="30.63" r="1.4" fill="#ff0000"/>
<circle cx="591.61" cy="26.32" r="1.4" fill="#ff0000"/>
<circle cx="557.66" cy="26.22" r="1.4" fill="#ff0000"/>
<circle cx="592.61" cy="22.00" r="1.4" fill="#ff0000"/>
<circle cx="557.20" cy="21.91" r="1.4" fill="#ff0000"/>
<circle cx="593.60" cy="17.76" r="1.4" fill="#ff0000"/>
<circle cx="556.75" cy="17.67" r="1.4" fill="#ff0000"/>
<circle cx="594.60" cy="13.60" r="1.4" fill="#ff0000"/>
<circle cx="556.30" cy="13.50" r="1.4" fill="#ff0000"/>
<path d="M565.7 179.4L565.58 176.6L565.45 173.81L565.32 171.01L565.19 168.21L565.05 165.42L564.91 162.62L564.76 159.82L564.61 157.03L564.46 154.23L564.3 151.43L564.14 148.64L563.97 145.84L563.8 143.04L563.63 140.25L563.46 137.45L563.28 134.65L563.1 131.86L562.91 129.06L562.73 126.26L562.54 123.47L562.35 120.67L562.16 117.87L561.96 115.08L561.76 112.28L561.56 109.48L561.36 106.69L561.15 103.89L560.93 101.09L560.7 98.3L560.47 95.5L560.24 92.7L560 89.91L559.75 87.11L559.5 84.31L559.25 81.52L558.99 78.72L558.73 75.92L558.47 73.13L558.2 70.33L557.93 67.53L557.66 64.74L557.39 61.94L557.12 59.14L556.84 56.35L556.56 53.55L556.27 50.75L555.99 47.96L555.69 45.16L555.4 42.36L555.1 39.57L554.79 36.77L554.48 33.97L554.17 31.18L553.86 28.38L553.54 25.58L553.22 22.79L552.89 19.99L552.57 17.19L552.23 14.4L551.9 11.6L493.4 174.8" stroke="#0000ff" stroke-width="0.78" fill="none" stroke-linejoin="round"/>
<path d="M565.7 179.4L566.19 176.6L566.69 173.8L567.18 171L567.68 168.2L568.17 165.4L568.67 162.6L569.17 159.8L569.67 157L570.17 154.2L570.67 151.4L571.17 148.6L571.68 145.8L572.18 143L572.69 140.2L573.19 137.4L573.7 134.6L574.21 131.8L574.72 129L575.23 126.2L575.74 123.4L576.25 120.6L576.77 117.8L577.28 115L577.8 112.2L578.31 109.4L578.83 106.6L579.34 103.8L579.86 101L580.38 98.2L580.9 95.4L581.42 92.6L581.95 89.8L582.47 87L583 84.2L583.52 81.4L584.05 78.6L584.58 75.8L585.11 73L585.65 70.2L586.18 67.4L586.72 64.6L587.25 61.8L587.79 59L588.33 56.2L588.88 53.4L589.42 50.6L589.97 47.8L590.51 45L591.06 42.2L591.61 39.4L592.16 36.6L592.72 33.8L593.27 31L593.83 28.2L594.39 25.4L594.95 22.6L595.51 19.8L596.07 17L596.63 14.2L597.2 11.4L602.4 174.7" stroke="#0000ff" stroke-width="0.78" fill="none" stroke-linejoin="round"/>
<path d="M565.70 177.56L567.30 180.60L564.10 180.60Z" fill="#0000ff"/>
<path d="M565.70 177.56L567.30 180.60L564.10 180.60Z" fill="#0000ff"/>
<path d="M566.72 171.78L568.32 174.82L565.12 174.82Z" fill="#0000ff"/>
<path d="M565.45 171.79L567.05 174.83L563.85 174.83Z" fill="#0000ff"/>
<path d="M567.73 166.04L569.33 169.08L566.13 169.08Z" fill="#0000ff"/>
<path d="M565.17 166.05L566.77 169.09L563.57 169.09Z" fill="#0000ff"/>
<path d="M568.75 160.31L570.35 163.35L567.15 163.35Z" fill="#0000ff"/>
<path d="M564.89 160.34L566.49 163.38L563.29 163.38Z" fill="#0000ff"/>
<path d="M569.76 154.62L571.36 157.66L568.16 157.66Z" fill="#0000ff"/>
<path d="M564.58 154.64L566.18 157.68L562.98 157.68Z" fill="#0000ff"/>
<path d="M570.78 148.94L572.38 151.98L569.18 151.98Z" fill="#0000ff"/>
<path d="M564.26 148.98L565.86 152.02L562.66 152.02Z" fill="#0000ff"/>
<path d="M571.80 143.29L573.40 146.33L570.20 146.33Z" fill="#0000ff"/>
<path d="M563.93 143.33L565.53 146.37L562.33 146.37Z" fill="#0000ff"/>
<path d="M572.81 137.67L574.41 140.71L571.21 140.71Z" fill="#0000ff"/>
<path d="M563.59 137.71L565.19 140.75L561.99 140.75Z" fill="#0000ff"/>
<path d="M573.83 132.06L575.43 135.10L572.23 135.10Z" fill="#0000ff"/>
<path d="M563.23 132.11L564.83 135.15L561.63 135.15Z" fill="#0000ff"/>
<path d="M574.85 126.47L576.45 129.51L573.25 129.51Z" fill="#0000ff"/>
<path d="M562.87 126.53L564.47 129.57L561.27 129.57Z" fill="#0000ff"/>
<path d="M575.86 120.90L577.46 123.94L574.26 123.94Z" fill="#0000ff"/>
<path d="M562.49 120.97L564.09 124.01L560.89 124.01Z" fill="#0000ff"/>
<path d="M576.88 115.36L578.48 118.40L575.28 118.40Z" fill="#0000ff"/>
<path d="M562.11 115.43L563.71 118.47L560.51 118.47Z" fill="#0000ff"/>
<path d="M577.89 109.82L579.49 112.86L576.29 112.86Z" fill="#0000ff"/>
<path d="M561.72 109.91L563.32 112.95L560.12 112.95Z" fill="#0000ff"/>
<path d="M578.91 104.31L580.51 107.35L577.31 107.35Z" fill="#0000ff"/>
<path d="M561.32 104.40L562.92 107.44L559.72 107.44Z" fill="#0000ff"/>
<path d="M579.93 98.82L581.53 101.86L578.33 101.86Z" fill="#0000ff"/>
<path d="M560.90 98.91L562.50 101.95L559.30 101.95Z" fill="#0000ff"/>
<path d="M580.94 93.35L582.54 96.39L579.34 96.39Z" fill="#0000ff"/>
<path d="M560.46 93.45L562.06 96.49L558.86 96.49Z" fill="#0000ff"/>
<path d="M581.96 87.90L583.56 90.94L580.36 90.94Z" fill="#0000ff"/>
<path d="M559.99 88.01L561.59 91.05L558.39 91.05Z" fill="#0000ff"/>
<path d="M582.97 82.48L584.57 85.52L581.37 85.52Z" fill="#0000ff"/>
<path d="M559.51 82.60L561.11 85.64L557.91 85.64Z" fill="#0000ff"/>
<path d="M583.99 77.09L585.59 80.13L582.39 80.13Z" fill="#0000ff"/>
<path d="M559.02 77.21L560.62 80.25L557.42 80.25Z" fill="#0000ff"/>
<path d="M585.01 71.72L586.61 74.76L583.41 74.76Z" fill="#0000ff"/>
<path d="M558.52 71.85L560.12 74.89L556.92 74.89Z" fill="#0000ff"/>
<path d="M586.02 66.38L587.62 69.42L584.42 69.42Z" fill="#0000ff"/>
<path d="M558.01 66.52L559.61 69.56L556.41 69.56Z" fill="#0000ff"/>
<path d="M587.04 61.08L588.64 64.12L585.44 64.12Z" fill="#0000ff"/>
<path d="M557.50 61.22L559.10 64.26L555.90 64.26Z" fill="#0000ff"/>
<path d="M588.05 55.80L589.65 58.84L586.45 58.84Z" fill="#0000ff"/>
<path d="M556.98 55.95L558.58 58.99L555.38 58.99Z" fill="#0000ff"/>
<path d="M589.07 50.56L590.67 53.60L587.47 53.60Z" fill="#0000ff"/>
<path d="M556.46 50.71L558.06 53.75L554.86 53.75Z" fill="#0000ff"/>
<path d="M590.09 45.34L591.69 48.38L588.49 48.38Z" fill="#0000ff"/>
<path d="M555.92 45.50L557.52 48.54L554.32 48.54Z" fill="#0000ff"/>
<path d="M591.10 40.15L592.70 43.19L589.50 43.19Z" fill="#0000ff"/>
<path d="M555.37 40.31L556.97 43.35L553.77 43.35Z" fill="#0000ff"/>
<path d="M592.12 34.99L593.72 38.03L590.52 38.03Z" fill="#0000ff"/>
<path d="M554.82 35.16L556.42 38.20L553.22 38.20Z" fill="#0000ff"/>
<path d="M593.14 29.85L594.74 32.89L591.54 32.89Z" fill="#0000ff"/>
<path d="M554.25 30.03L555.85 33.07L552.65 33.07Z" fill="#0000ff"/>
<path d="M594.15 24.74L595.75 27.78L592.55 27.78Z" fill="#0000ff"/>
<path d="M553.67 24.92L555.27 27.96L552.07 27.96Z" fill="#0000ff"/>
<path d="M595.17 19.66L596.77 22.70L593.57 22.70Z" fill="#0000ff"/>
<path d="M553.09 19.84L554.69 22.88L551.49 22.88Z" fill="#0000ff"/>
<path d="M596.18 14.60L597.78 17.64L594.58 17.64Z" fill="#0000ff"/>
<path d="M552.50 14.79L554.10 17.83L550.90 17.83Z" fill="#0000ff"/>
<path d="M597.20 9.56L598.80 12.60L595.60 12.60Z" fill="#0000ff"/>
<path d="M551.90 9.76L553.50 12.80L550.30 12.80Z" fill="#0000ff"/>
<path d="M565.7 179.4L565.6 176.58L565.49 173.77L565.39 170.95L565.29 168.13L565.19 165.32L565.09 162.5L564.99 159.68L564.89 156.87L564.79 154.05L564.7 151.23L564.6 148.42L564.51 145.6L564.41 142.78L564.32 139.97L564.23 137.15L564.14 134.33L564.05 131.52L563.96 128.7L563.88 125.88L563.79 123.07L563.7 120.25L563.62 117.43L563.53 114.62L563.45 111.8L563.37 108.98L563.29 106.17L563.22 103.35L563.15 100.53L563.08 97.72L563.01 94.9L562.94 92.08L562.88 89.27L562.81 86.45L562.75 83.63L562.68 80.82L562.61 78L562.54 75.18L562.47 72.37L562.39 69.55L562.31 66.73L562.23 63.92L562.14 61.1L562.04 58.28L561.94 55.47L561.84 52.65L561.73 49.83L561.62 47.02L561.5 44.2L561.38 41.38L561.25 38.57L561.12 35.75L560.99 32.93L560.85 30.12L560.71 27.3L560.56 24.48L560.42 21.67L560.27 18.85L560.11 16.03L559.96 13.22L559.8 10.4" stroke="#00ff00" stroke-width="0.78" fill="none" stroke-linejoin="round"/>
<path d="M565.7 179.4L566.35 176.57L566.99 173.74L567.63 170.91L568.25 168.08L568.87 165.25L569.49 162.42L570.09 159.59L570.69 156.76L571.28 153.93L571.86 151.1L572.43 148.27L573 145.44L573.56 142.61L574.11 139.78L574.65 136.95L575.18 134.12L575.71 131.29L576.23 128.46L576.73 125.63L577.24 122.8L577.73 119.97L578.21 117.14L578.69 114.31L579.16 111.48L579.62 108.65L580.06 105.82L580.49 102.99L580.91 100.16L581.31 97.33L581.71 94.5L582.09 91.67L582.47 88.84L582.85 86.01L583.23 83.18L583.6 80.35L583.97 77.52L584.35 74.69L584.73 71.86L585.11 69.03L585.51 66.2L585.91 63.37L586.32 60.54L586.74 57.71L587.17 54.88L587.6 52.05L588.03 49.22L588.46 46.39L588.9 43.56L589.34 40.73L589.79 37.9L590.24 35.07L590.69 32.24L591.14 29.41L591.6 26.58L592.06 23.75L592.52 20.92L592.99 18.09L593.45 15.26L593.93 12.43L594.4 9.6" stroke="#00ff00" stroke-width="0.78" fill="none" stroke-linejoin="round"/>
<path d="M565.70 181.24L567.30 178.20L564.10 178.20Z" fill="#00ff00"/>
<path d="M565.70 181.24L567.30 178.20L564.10 178.20Z" fill="#00ff00"/>
<path d="M566.69 176.91L568.29 173.87L565.09 173.87Z" fill="#00ff00"/>
<path d="M565.54 176.93L567.14 173.89L563.94 173.89Z" fill="#00ff00"/>
<path d="M567.68 172.51L569.28 169.47L566.08 169.47Z" fill="#00ff00"/>
<path d="M565.38 172.55L566.98 169.51L563.78 169.51Z" fill="#00ff00"/>
<path d="M568.67 168.03L570.27 164.99L567.07 164.99Z" fill="#00ff00"/>
<path d="M565.22 168.09L566.82 165.05L563.62 165.05Z" fill="#00ff00"/>
<path d="M569.66 163.45L571.26 160.41L568.06 160.41Z" fill="#00ff00"/>
<path d="M565.06 163.54L566.66 160.50L563.46 160.50Z" fill="#00ff00"/>
<path d="M570.65 158.78L572.25 155.74L569.05 155.74Z" fill="#00ff00"/>
<path d="M564.90 158.89L566.50 155.85L563.30 155.85Z" fill="#00ff00"/>
<path d="M571.64 154.01L573.24 150.97L570.04 150.97Z" fill="#00ff00"/>
<path d="M564.73 154.14L566.33 151.10L563.13 151.10Z" fill="#00ff00"/>
<path d="M572.63 149.13L574.23 146.09L571.03 146.09Z" fill="#00ff00"/>
<path d="M564.57 149.28L566.17 146.24L562.97 146.24Z" fill="#00ff00"/>
<path d="M573.62 144.13L575.22 141.09L572.02 141.09Z" fill="#00ff00"/>
<path d="M564.40 144.31L566.00 141.27L562.80 141.27Z" fill="#00ff00"/>
<path d="M574.61 139.00L576.21 135.96L573.01 135.96Z" fill="#00ff00"/>
<path d="M564.24 139.20L565.84 136.16L562.64 136.16Z" fill="#00ff00"/>
<path d="M575.60 133.73L577.20 130.69L574.00 130.69Z" fill="#00ff00"/>
<path d="M564.07 133.95L565.67 130.91L562.47 130.91Z" fill="#00ff00"/>
<path d="M576.59 128.30L578.19 125.26L574.99 125.26Z" fill="#00ff00"/>
<path d="M563.90 128.55L565.50 125.51L562.30 125.51Z" fill="#00ff00"/>
<path d="M577.58 122.70L579.18 119.66L575.98 119.66Z" fill="#00ff00"/>
<path d="M563.73 122.97L565.33 119.93L562.13 119.93Z" fill="#00ff00"/>
<path d="M578.57 116.90L580.17 113.86L576.97 113.86Z" fill="#00ff00"/>
<path d="M563.56 117.20L565.16 114.16L561.96 114.16Z" fill="#00ff00"/>
<path d="M579.56 110.88L581.16 107.84L577.96 107.84Z" fill="#00ff00"/>
<path d="M563.38 111.21L564.98 108.17L561.78 108.17Z" fill="#00ff00"/>
<path d="M580.54 104.46L582.14 101.42L578.94 101.42Z" fill="#00ff00"/>
<path d="M563.21 104.82L564.81 101.78L561.61 101.78Z" fill="#00ff00"/>
<path d="M581.53 97.57L583.13 94.53L579.93 94.53Z" fill="#00ff00"/>
<path d="M563.04 97.97L564.64 94.93L561.44 94.93Z" fill="#00ff00"/>
<path d="M582.52 90.31L584.12 87.27L580.92 87.27Z" fill="#00ff00"/>
<path d="M562.87 90.74L564.47 87.70L561.27 87.70Z" fill="#00ff00"/>
<path d="M583.51 82.83L585.11 79.79L581.91 79.79Z" fill="#00ff00"/>
<path d="M562.69 83.29L564.29 80.25L561.09 80.25Z" fill="#00ff00"/>
<path d="M584.50 75.36L586.10 72.32L582.90 72.32Z" fill="#00ff00"/>
<path d="M562.51 75.86L564.11 72.82L560.91 72.82Z" fill="#00ff00"/>
<path d="M585.49 68.13L587.09 65.09L583.89 65.09Z" fill="#00ff00"/>
<path d="M562.31 68.66L563.91 65.62L560.71 65.62Z" fill="#00ff00"/>
<path d="M586.48 61.28L588.08 58.24L584.88 58.24Z" fill="#00ff00"/>
<path d="M562.10 61.85L563.70 58.81L560.50 58.81Z" fill="#00ff00"/>
<path d="M587.47 54.70L589.07 51.66L585.87 51.66Z" fill="#00ff00"/>
<path d="M561.87 55.30L563.47 52.26L560.27 52.26Z" fill="#00ff00"/>
<path d="M588.46 48.23L590.06 45.19L586.86 45.19Z" fill="#00ff00"/>
<path d="M561.62 48.86L563.22 45.82L560.02 45.82Z" fill="#00ff00"/>
<path d="M589.45 41.87L591.05 38.83L587.85 38.83Z" fill="#00ff00"/>
<path d="M561.35 42.53L562.95 39.49L559.75 39.49Z" fill="#00ff00"/>
<path d="M590.44 35.61L592.04 32.57L588.84 32.57Z" fill="#00ff00"/>
<path d="M561.06 36.30L562.66 33.26L559.46 33.26Z" fill="#00ff00"/>
<path d="M591.43 29.44L593.03 26.40L589.83 26.40Z" fill="#00ff00"/>
<path d="M560.76 30.16L562.36 27.12L559.16 27.12Z" fill="#00ff00"/>
<path d="M592.42 23.36L594.02 20.32L590.82 20.32Z" fill="#00ff00"/>
<path d="M560.45 24.11L562.05 21.07L558.85 21.07Z" fill="#00ff00"/>
<path d="M593.41 17.36L595.01 14.32L591.81 14.32Z" fill="#00ff00"/>
<path d="M560.13 18.14L561.73 15.10L558.53 15.10Z" fill="#00ff00"/>
<path d="M594.40 11.44L596.00 8.40L592.80 8.40Z" fill="#00ff00"/>
<path d="M559.80 12.24L561.40 9.20L558.20 9.20Z" fill="#00ff00"/>
<rect x="617.3" y="1.5" width="53.5" height="46" fill="#fff" stroke="#a2a2a2" stroke-width="1"/>
<path d="M618.4 7.3H639" stroke="#000000" stroke-width="0.78"/>
<rect x="627.85" y="6.15" width="2.3" height="2.3" fill="#000000"/>
<text x="641.4" y="10.45" font-size="9.12">0</text>
<path d="M618.4 18.7H639" stroke="#ff0000" stroke-width="0.78"/>
<circle cx="629.00" cy="18.70" r="1.4" fill="#ff0000"/>
<text x="641.4" y="21.85" font-size="9.12">100kPa</text>
<path d="M618.4 30H639" stroke="#0000ff" stroke-width="0.78"/>
<path d="M629.00 28.16L630.60 31.20L627.40 31.20Z" fill="#0000ff"/>
<text x="641.4" y="33.15" font-size="9.12">200kPa</text>
<path d="M618.4 41.2H639" stroke="#00ff00" stroke-width="0.78"/>
<path d="M629.00 43.04L630.60 40.00L627.40 40.00Z" fill="#00ff00"/>
<text x="641.4" y="44.35" font-size="9.12">300kPa</text></g>
<g id="plot-c"><path d="M1.95 431.3H318.2M203.2 431.3V253.8" stroke="#6c6c6c" stroke-width="1.55" fill="none"/>
<path d="M1.95 431.3v2M30.7 431.3v3.4M59.45 431.3v2M88.2 431.3v3.4M116.95 431.3v2M145.7 431.3v3.4M174.45 431.3v2M203.2 431.3v3.4M231.95 431.3v2M260.7 431.3v3.4M289.45 431.3v2M318.2 431.3v3.4M203.2 431.3h-3.4M203.2 409.68h-2M203.2 388.05h-3.4M203.2 366.43h-2M203.2 344.8h-3.4M203.2 323.18h-2M203.2 301.55h-3.4M203.2 279.93h-2M203.2 258.3h-3.4" stroke="#484848" stroke-width="1.1" fill="none"/>
<text x="30.7" y="443.9" class="t" font-size="7.5" text-anchor="middle">−3</text>
<text x="88.2" y="443.9" class="t" font-size="7.5" text-anchor="middle">−2</text>
<text x="145.7" y="443.9" class="t" font-size="7.5" text-anchor="middle">−1</text>
<text x="203.2" y="443.9" class="t" font-size="7.5" text-anchor="middle">0</text>
<text x="260.7" y="443.9" class="t" font-size="7.5" text-anchor="middle">1</text>
<text x="318.2" y="443.9" class="t" font-size="7.5" text-anchor="middle">2</text>
<text x="197.4" y="434.35" class="t" font-size="7.5" text-anchor="end">0</text>
<text x="197.4" y="391.1" class="t" font-size="7.5" text-anchor="end">50</text>
<text x="197.4" y="347.85" class="t" font-size="7.5" text-anchor="end">100</text>
<text x="197.4" y="304.6" class="t" font-size="7.5" text-anchor="end">150</text>
<text x="197.4" y="261.35" class="t" font-size="7.5" text-anchor="end">200</text>
<text x="179.9" y="452" font-size="9.28" text-anchor="end">Radial strain/%</text>
<text x="231.7" y="450.5" font-size="9.28">Axial strain/%</text>
<text transform="translate(212.2 254.1) rotate(-90)" font-size="9.2" text-anchor="end">Stress/MPa</text>
<text x="176" y="471.1" font-size="12.8" text-anchor="middle">(c)</text>
<path d="M203.2 431.3L203.12 428.58L203.03 425.87L202.94 423.15L202.85 420.43L202.76 417.72L202.67 415L202.58 412.28L202.48 409.57L202.38 406.85L202.28 404.13L202.18 401.42L202.08 398.7L201.97 395.98L201.87 393.27L201.76 390.55L201.65 387.83L201.54 385.12L201.43 382.4L201.31 379.68L201.2 376.97L201.08 374.25L200.97 371.53L200.85 368.82L200.73 366.1L200.62 363.38L200.51 360.67L200.4 357.95L200.3 355.23L200.19 352.52L200.08 349.8L199.97 347.08L199.85 344.37L199.73 341.65L199.61 338.93L199.48 336.22L199.35 333.5L199.2 330.78L199.05 328.07L198.9 325.35L198.73 322.63L198.55 319.92L198.36 317.2L198.16 314.48L197.95 311.77L197.72 309.05L197.44 306.33L197.11 303.62L196.73 300.9L196.31 298.18L195.85 295.47L195.34 292.75L194.81 290.03L194.24 287.32L193.65 284.6L193.03 281.88L192.39 279.17L191.73 276.45L191.06 273.73L190.38 271.02L189.7 268.3L23.1 427.1" stroke="#000000" stroke-width="0.78" fill="none" stroke-linejoin="round"/>
<path d="M203.2 431.3L203.59 428.6L203.97 425.9L204.37 423.19L204.76 420.49L205.16 417.79L205.56 415.09L205.96 412.39L206.37 409.69L206.77 406.99L207.18 404.28L207.6 401.58L208.01 398.88L208.43 396.18L208.85 393.48L209.27 390.77L209.7 388.07L210.12 385.37L210.55 382.67L210.99 379.97L211.42 377.27L211.86 374.56L212.3 371.86L212.74 369.16L213.18 366.46L213.63 363.76L214.07 361.06L214.52 358.36L214.98 355.65L215.43 352.95L215.89 350.25L216.35 347.55L216.81 344.85L217.28 342.14L217.75 339.44L218.22 336.74L218.7 334.04L219.18 331.34L219.66 328.64L220.15 325.94L220.64 323.23L221.13 320.53L221.63 317.83L222.13 315.13L222.64 312.43L223.15 309.73L223.67 307.02L224.19 304.32L224.73 301.62L225.26 298.92L225.8 296.22L226.35 293.51L226.91 290.81L227.46 288.11L228.03 285.41L228.6 282.71L229.17 280.01L229.75 277.31L230.33 274.6L230.91 271.9L231.5 269.2L291.6 427.1" stroke="#000000" stroke-width="0.78" fill="none" stroke-linejoin="round"/>
<rect x="202.05" y="430.15" width="2.3" height="2.3" fill="#000000"/>
<rect x="202.05" y="430.15" width="2.3" height="2.3" fill="#000000"/>
<rect x="203.06" y="423.12" width="2.3" height="2.3" fill="#000000"/>
<rect x="201.83" y="423.08" width="2.3" height="2.3" fill="#000000"/>
<rect x="204.07" y="416.21" width="2.3" height="2.3" fill="#000000"/>
<rect x="201.60" y="416.13" width="2.3" height="2.3" fill="#000000"/>
<rect x="205.08" y="409.42" width="2.3" height="2.3" fill="#000000"/>
<rect x="201.36" y="409.31" width="2.3" height="2.3" fill="#000000"/>
<rect x="206.09" y="402.74" width="2.3" height="2.3" fill="#000000"/>
<rect x="201.12" y="402.59" width="2.3" height="2.3" fill="#000000"/>
<rect x="207.10" y="396.16" width="2.3" height="2.3" fill="#000000"/>
<rect x="200.87" y="395.97" width="2.3" height="2.3" fill="#000000"/>
<rect x="208.11" y="389.67" width="2.3" height="2.3" fill="#000000"/>
<rect x="200.61" y="389.44" width="2.3" height="2.3" fill="#000000"/>
<rect x="209.13" y="383.27" width="2.3" height="2.3" fill="#000000"/>
<rect x="200.35" y="383.01" width="2.3" height="2.3" fill="#000000"/>
<rect x="210.14" y="376.95" width="2.3" height="2.3" fill="#000000"/>
<rect x="200.08" y="376.66" width="2.3" height="2.3" fill="#000000"/>
<rect x="211.15" y="370.71" width="2.3" height="2.3" fill="#000000"/>
<rect x="199.82" y="370.38" width="2.3" height="2.3" fill="#000000"/>
<rect x="212.16" y="364.54" width="2.3" height="2.3" fill="#000000"/>
<rect x="199.55" y="364.18" width="2.3" height="2.3" fill="#000000"/>
<rect x="213.17" y="358.44" width="2.3" height="2.3" fill="#000000"/>
<rect x="199.30" y="358.04" width="2.3" height="2.3" fill="#000000"/>
<rect x="214.18" y="352.40" width="2.3" height="2.3" fill="#000000"/>
<rect x="199.06" y="351.97" width="2.3" height="2.3" fill="#000000"/>
<rect x="215.19" y="346.45" width="2.3" height="2.3" fill="#000000"/>
<rect x="198.82" y="345.99" width="2.3" height="2.3" fill="#000000"/>
<rect x="216.20" y="340.58" width="2.3" height="2.3" fill="#000000"/>
<rect x="198.56" y="340.08" width="2.3" height="2.3" fill="#000000"/>
<rect x="217.21" y="334.79" width="2.3" height="2.3" fill="#000000"/>
<rect x="198.29" y="334.26" width="2.3" height="2.3" fill="#000000"/>
<rect x="218.22" y="329.09" width="2.3" height="2.3" fill="#000000"/>
<rect x="197.99" y="328.53" width="2.3" height="2.3" fill="#000000"/>
<rect x="219.23" y="323.48" width="2.3" height="2.3" fill="#000000"/>
<rect x="197.67" y="322.89" width="2.3" height="2.3" fill="#000000"/>
<rect x="220.24" y="317.96" width="2.3" height="2.3" fill="#000000"/>
<rect x="197.30" y="317.34" width="2.3" height="2.3" fill="#000000"/>
<rect x="221.25" y="312.53" width="2.3" height="2.3" fill="#000000"/>
<rect x="196.90" y="311.88" width="2.3" height="2.3" fill="#000000"/>
<rect x="222.26" y="307.20" width="2.3" height="2.3" fill="#000000"/>
<rect x="196.43" y="306.52" width="2.3" height="2.3" fill="#000000"/>
<rect x="223.28" y="301.99" width="2.3" height="2.3" fill="#000000"/>
<rect x="195.80" y="301.28" width="2.3" height="2.3" fill="#000000"/>
<rect x="224.29" y="296.90" width="2.3" height="2.3" fill="#000000"/>
<rect x="195.02" y="296.16" width="2.3" height="2.3" fill="#000000"/>
<rect x="225.30" y="291.90" width="2.3" height="2.3" fill="#000000"/>
<rect x="194.11" y="291.14" width="2.3" height="2.3" fill="#000000"/>
<rect x="226.31" y="287.00" width="2.3" height="2.3" fill="#000000"/>
<rect x="193.10" y="286.20" width="2.3" height="2.3" fill="#000000"/>
<rect x="227.32" y="282.17" width="2.3" height="2.3" fill="#000000"/>
<rect x="192.02" y="281.35" width="2.3" height="2.3" fill="#000000"/>
<rect x="228.33" y="277.40" width="2.3" height="2.3" fill="#000000"/>
<rect x="190.89" y="276.56" width="2.3" height="2.3" fill="#000000"/>
<rect x="229.34" y="272.70" width="2.3" height="2.3" fill="#000000"/>
<rect x="189.73" y="271.83" width="2.3" height="2.3" fill="#000000"/>
<rect x="230.35" y="268.05" width="2.3" height="2.3" fill="#000000"/>
<rect x="188.55" y="267.15" width="2.3" height="2.3" fill="#000000"/>
<path d="M203.2 431.3L203.07 428.62L202.94 425.93L202.8 423.25L202.67 420.56L202.52 417.88L202.38 415.19L202.23 412.5L202.08 409.82L201.92 407.13L201.76 404.45L201.6 401.76L201.44 399.08L201.27 396.39L201.1 393.71L200.93 391.02L200.76 388.34L200.58 385.66L200.4 382.97L200.22 380.29L200.03 377.6L199.85 374.92L199.66 372.23L199.47 369.55L199.27 366.86L199.07 364.18L198.86 361.49L198.65 358.81L198.43 356.12L198.2 353.44L197.97 350.75L197.74 348.06L197.51 345.38L197.27 342.69L197.03 340.01L196.78 337.32L196.54 334.64L196.29 331.95L196.05 329.27L195.8 326.58L195.55 323.9L195.31 321.21L195.06 318.53L194.82 315.85L194.58 313.16L194.34 310.48L194.11 307.79L193.88 305.11L193.66 302.42L193.44 299.74L193.22 297.05L192.99 294.37L192.75 291.68L192.51 289L192.25 286.31L191.97 283.62L191.66 280.94L191.33 278.25L190.97 275.57L190.59 272.88L190.2 270.2L187.3 265.5L80.1 397.7" stroke="#ff0000" stroke-width="0.78" fill="none" stroke-linejoin="round"/>
<path d="M203.2 431.3L203.97 428.54L204.74 425.77L205.5 423.01L206.26 420.25L207.01 417.48L207.76 414.72L208.5 411.96L209.24 409.19L209.97 406.43L210.69 403.67L211.41 400.9L212.13 398.14L212.84 395.38L213.55 392.61L214.24 389.85L214.94 387.09L215.63 384.32L216.31 381.56L216.99 378.8L217.66 376.03L218.32 373.27L218.98 370.51L219.63 367.74L220.28 364.98L220.91 362.22L221.54 359.45L222.17 356.69L222.79 353.93L223.4 351.16L224.01 348.4L224.61 345.64L225.21 342.87L225.8 340.11L226.4 337.35L226.99 334.58L227.57 331.82L228.16 329.06L228.75 326.29L229.33 323.53L229.92 320.77L230.5 318L231.09 315.24L231.67 312.48L232.26 309.71L232.85 306.95L233.44 304.19L234.02 301.42L234.61 298.66L235.19 295.9L235.77 293.13L236.35 290.37L236.93 287.61L237.5 284.84L238.08 282.08L238.65 279.32L239.22 276.55L239.79 273.79L240.36 271.03L240.93 268.26L241.5 265.5L266.6 397.8" stroke="#ff0000" stroke-width="0.78" fill="none" stroke-linejoin="round"/>
<circle cx="203.20" cy="431.30" r="1.4" fill="#ff0000"/>
<circle cx="203.20" cy="431.30" r="1.4" fill="#ff0000"/>
<circle cx="204.21" cy="427.69" r="1.4" fill="#ff0000"/>
<circle cx="203.03" cy="427.79" r="1.4" fill="#ff0000"/>
<circle cx="205.22" cy="424.04" r="1.4" fill="#ff0000"/>
<circle cx="202.86" cy="424.25" r="1.4" fill="#ff0000"/>
<circle cx="206.22" cy="420.37" r="1.4" fill="#ff0000"/>
<circle cx="202.67" cy="420.68" r="1.4" fill="#ff0000"/>
<circle cx="207.23" cy="416.66" r="1.4" fill="#ff0000"/>
<circle cx="202.48" cy="417.08" r="1.4" fill="#ff0000"/>
<circle cx="208.24" cy="412.92" r="1.4" fill="#ff0000"/>
<circle cx="202.28" cy="413.45" r="1.4" fill="#ff0000"/>
<circle cx="209.25" cy="409.15" r="1.4" fill="#ff0000"/>
<circle cx="202.07" cy="409.78" r="1.4" fill="#ff0000"/>
<circle cx="210.26" cy="405.34" r="1.4" fill="#ff0000"/>
<circle cx="201.86" cy="406.07" r="1.4" fill="#ff0000"/>
<circle cx="211.26" cy="401.48" r="1.4" fill="#ff0000"/>
<circle cx="201.64" cy="402.33" r="1.4" fill="#ff0000"/>
<circle cx="212.27" cy="397.59" r="1.4" fill="#ff0000"/>
<circle cx="201.41" cy="398.55" r="1.4" fill="#ff0000"/>
<circle cx="213.28" cy="393.66" r="1.4" fill="#ff0000"/>
<circle cx="201.17" cy="394.73" r="1.4" fill="#ff0000"/>
<circle cx="214.29" cy="389.68" r="1.4" fill="#ff0000"/>
<circle cx="200.92" cy="390.86" r="1.4" fill="#ff0000"/>
<circle cx="215.29" cy="385.66" r="1.4" fill="#ff0000"/>
<circle cx="200.66" cy="386.95" r="1.4" fill="#ff0000"/>
<circle cx="216.30" cy="381.58" r="1.4" fill="#ff0000"/>
<circle cx="200.40" cy="382.99" r="1.4" fill="#ff0000"/>
<circle cx="217.31" cy="377.46" r="1.4" fill="#ff0000"/>
<circle cx="200.13" cy="378.99" r="1.4" fill="#ff0000"/>
<circle cx="218.32" cy="373.28" r="1.4" fill="#ff0000"/>
<circle cx="199.85" cy="374.92" r="1.4" fill="#ff0000"/>
<circle cx="219.33" cy="369.04" r="1.4" fill="#ff0000"/>
<circle cx="199.56" cy="370.81" r="1.4" fill="#ff0000"/>
<circle cx="220.33" cy="364.73" r="1.4" fill="#ff0000"/>
<circle cx="199.25" cy="366.62" r="1.4" fill="#ff0000"/>
<circle cx="221.34" cy="360.34" r="1.4" fill="#ff0000"/>
<circle cx="198.93" cy="362.35" r="1.4" fill="#ff0000"/>
<circle cx="222.35" cy="355.88" r="1.4" fill="#ff0000"/>
<circle cx="198.58" cy="358.02" r="1.4" fill="#ff0000"/>
<circle cx="223.36" cy="351.35" r="1.4" fill="#ff0000"/>
<circle cx="198.22" cy="353.61" r="1.4" fill="#ff0000"/>
<circle cx="224.37" cy="346.75" r="1.4" fill="#ff0000"/>
<circle cx="197.84" cy="349.15" r="1.4" fill="#ff0000"/>
<circle cx="225.37" cy="342.11" r="1.4" fill="#ff0000"/>
<circle cx="197.44" cy="344.64" r="1.4" fill="#ff0000"/>
<circle cx="226.38" cy="337.42" r="1.4" fill="#ff0000"/>
<circle cx="197.03" cy="340.08" r="1.4" fill="#ff0000"/>
<circle cx="227.39" cy="332.69" r="1.4" fill="#ff0000"/>
<circle cx="196.62" cy="335.49" r="1.4" fill="#ff0000"/>
<circle cx="228.40" cy="327.94" r="1.4" fill="#ff0000"/>
<circle cx="196.19" cy="330.87" r="1.4" fill="#ff0000"/>
<circle cx="229.41" cy="323.18" r="1.4" fill="#ff0000"/>
<circle cx="195.77" cy="326.24" r="1.4" fill="#ff0000"/>
<circle cx="230.41" cy="318.41" r="1.4" fill="#ff0000"/>
<circle cx="195.34" cy="321.61" r="1.4" fill="#ff0000"/>
<circle cx="231.42" cy="313.66" r="1.4" fill="#ff0000"/>
<circle cx="194.92" cy="316.99" r="1.4" fill="#ff0000"/>
<circle cx="232.43" cy="308.93" r="1.4" fill="#ff0000"/>
<circle cx="194.51" cy="312.40" r="1.4" fill="#ff0000"/>
<circle cx="233.44" cy="304.19" r="1.4" fill="#ff0000"/>
<circle cx="194.11" cy="307.79" r="1.4" fill="#ff0000"/>
<circle cx="234.44" cy="299.42" r="1.4" fill="#ff0000"/>
<circle cx="193.72" cy="303.16" r="1.4" fill="#ff0000"/>
<circle cx="235.45" cy="294.64" r="1.4" fill="#ff0000"/>
<circle cx="193.34" cy="298.51" r="1.4" fill="#ff0000"/>
<circle cx="236.46" cy="289.83" r="1.4" fill="#ff0000"/>
<circle cx="192.94" cy="293.84" r="1.4" fill="#ff0000"/>
<circle cx="237.47" cy="285.01" r="1.4" fill="#ff0000"/>
<circle cx="192.52" cy="289.15" r="1.4" fill="#ff0000"/>
<circle cx="238.48" cy="280.16" r="1.4" fill="#ff0000"/>
<circle cx="192.05" cy="284.45" r="1.4" fill="#ff0000"/>
<circle cx="239.48" cy="275.29" r="1.4" fill="#ff0000"/>
<circle cx="191.52" cy="279.72" r="1.4" fill="#ff0000"/>
<circle cx="240.49" cy="270.41" r="1.4" fill="#ff0000"/>
<circle cx="190.89" cy="274.97" r="1.4" fill="#ff0000"/>
<circle cx="241.50" cy="265.50" r="1.4" fill="#ff0000"/>
<circle cx="190.20" cy="270.20" r="1.4" fill="#ff0000"/>
<circle cx="187.30" cy="265.50" r="1.4" fill="#ff0000"/>
<path d="M203.2 431.3L203.22 428.49L203.22 425.67L203.23 422.86L203.22 420.05L203.21 417.23L203.19 414.42L203.16 411.61L203.13 408.79L203.1 405.98L203.06 403.17L203.01 400.35L202.96 397.54L202.91 394.73L202.86 391.91L202.8 389.1L202.75 386.29L202.69 383.47L202.63 380.66L202.57 377.85L202.51 375.03L202.45 372.22L202.39 369.41L202.32 366.59L202.24 363.78L202.15 360.97L202.06 358.15L201.95 355.34L201.83 352.53L201.71 349.71L201.57 346.9L201.43 344.09L201.28 341.27L201.12 338.46L200.96 335.65L200.79 332.83L200.61 330.02L200.43 327.21L200.24 324.39L200.05 321.58L199.85 318.77L199.64 315.95L199.44 313.14L199.22 310.33L199 307.51L198.76 304.7L198.5 301.89L198.22 299.07L197.92 296.26L197.6 293.45L197.27 290.63L196.92 287.82L196.56 285.01L196.19 282.19L195.8 279.38L195.41 276.57L195 273.75L194.59 270.94L194.16 268.13L193.74 265.31L193.3 262.5L99.4 412" stroke="#0000ff" stroke-width="0.78" fill="none" stroke-linejoin="round"/>
<path d="M203.2 431.3L203.89 428.49L204.59 425.67L205.27 422.86L205.95 420.05L206.63 417.23L207.3 414.42L207.97 411.61L208.64 408.79L209.3 405.98L209.95 403.17L210.6 400.35L211.24 397.54L211.89 394.73L212.52 391.91L213.15 389.1L213.78 386.29L214.4 383.47L215.01 380.66L215.62 377.85L216.23 375.03L216.83 372.22L217.42 369.41L218.01 366.59L218.58 363.78L219.15 360.97L219.7 358.15L220.25 355.34L220.79 352.53L221.32 349.71L221.85 346.9L222.38 344.09L222.91 341.27L223.43 338.46L223.96 335.65L224.49 332.83L225.02 330.02L225.56 327.21L226.1 324.39L226.65 321.58L227.2 318.77L227.77 315.95L228.34 313.14L228.93 310.33L229.53 307.51L230.13 304.7L230.74 301.89L231.36 299.07L231.99 296.26L232.62 293.45L233.25 290.63L233.89 287.82L234.54 285.01L235.19 282.19L235.85 279.38L236.51 276.57L237.18 273.75L237.85 270.94L238.53 268.13L239.21 265.31L239.9 262.5L310.8 412" stroke="#0000ff" stroke-width="0.78" fill="none" stroke-linejoin="round"/>
<path d="M203.20 429.46L204.80 432.50L201.60 432.50Z" fill="#0000ff"/>
<path d="M203.20 429.46L204.80 432.50L201.60 432.50Z" fill="#0000ff"/>
<path d="M204.22 425.33L205.82 428.37L202.62 428.37Z" fill="#0000ff"/>
<path d="M203.22 425.33L204.82 428.37L201.62 428.37Z" fill="#0000ff"/>
<path d="M205.24 421.15L206.84 424.19L203.64 424.19Z" fill="#0000ff"/>
<path d="M203.23 421.15L204.83 424.19L201.63 424.19Z" fill="#0000ff"/>
<path d="M206.26 416.94L207.86 419.98L204.66 419.98Z" fill="#0000ff"/>
<path d="M203.21 416.94L204.81 419.98L201.61 419.98Z" fill="#0000ff"/>
<path d="M207.28 412.69L208.88 415.73L205.68 415.73Z" fill="#0000ff"/>
<path d="M203.19 412.69L204.79 415.73L201.59 415.73Z" fill="#0000ff"/>
<path d="M208.30 408.39L209.90 411.43L206.70 411.43Z" fill="#0000ff"/>
<path d="M203.15 408.39L204.75 411.43L201.55 411.43Z" fill="#0000ff"/>
<path d="M209.32 404.05L210.92 407.09L207.72 407.09Z" fill="#0000ff"/>
<path d="M203.09 404.05L204.69 407.09L201.49 407.09Z" fill="#0000ff"/>
<path d="M210.34 399.66L211.94 402.70L208.74 402.70Z" fill="#0000ff"/>
<path d="M203.03 399.66L204.63 402.70L201.43 402.70Z" fill="#0000ff"/>
<path d="M211.36 395.21L212.96 398.25L209.76 398.25Z" fill="#0000ff"/>
<path d="M202.96 395.21L204.56 398.25L201.36 398.25Z" fill="#0000ff"/>
<path d="M212.37 390.72L213.97 393.76L210.77 393.76Z" fill="#0000ff"/>
<path d="M202.87 390.72L204.47 393.76L201.27 393.76Z" fill="#0000ff"/>
<path d="M213.39 386.17L214.99 389.21L211.79 389.21Z" fill="#0000ff"/>
<path d="M202.78 386.17L204.38 389.21L201.18 389.21Z" fill="#0000ff"/>
<path d="M214.41 381.56L216.01 384.60L212.81 384.60Z" fill="#0000ff"/>
<path d="M202.69 381.56L204.29 384.60L201.09 384.60Z" fill="#0000ff"/>
<path d="M215.43 376.89L217.03 379.93L213.83 379.93Z" fill="#0000ff"/>
<path d="M202.59 376.89L204.19 379.93L200.99 379.93Z" fill="#0000ff"/>
<path d="M216.45 372.15L218.05 375.19L214.85 375.19Z" fill="#0000ff"/>
<path d="M202.48 372.15L204.08 375.19L200.88 375.19Z" fill="#0000ff"/>
<path d="M217.47 367.34L219.07 370.38L215.87 370.38Z" fill="#0000ff"/>
<path d="M202.38 367.34L203.98 370.38L200.78 370.38Z" fill="#0000ff"/>
<path d="M218.49 362.39L220.09 365.43L216.89 365.43Z" fill="#0000ff"/>
<path d="M202.26 362.39L203.86 365.43L200.66 365.43Z" fill="#0000ff"/>
<path d="M219.51 357.28L221.11 360.32L217.91 360.32Z" fill="#0000ff"/>
<path d="M202.09 357.28L203.69 360.32L200.49 360.32Z" fill="#0000ff"/>
<path d="M220.53 352.03L222.13 355.07L218.93 355.07Z" fill="#0000ff"/>
<path d="M201.89 352.03L203.49 355.07L200.29 355.07Z" fill="#0000ff"/>
<path d="M221.55 346.67L223.15 349.71L219.95 349.71Z" fill="#0000ff"/>
<path d="M201.65 346.67L203.25 349.71L200.05 349.71Z" fill="#0000ff"/>
<path d="M222.57 341.25L224.17 344.29L220.97 344.29Z" fill="#0000ff"/>
<path d="M201.38 341.25L202.98 344.29L199.78 344.29Z" fill="#0000ff"/>
<path d="M223.59 335.79L225.19 338.83L221.99 338.83Z" fill="#0000ff"/>
<path d="M201.08 335.79L202.68 338.83L199.48 338.83Z" fill="#0000ff"/>
<path d="M224.61 330.36L226.21 333.40L223.01 333.40Z" fill="#0000ff"/>
<path d="M200.75 330.36L202.35 333.40L199.15 333.40Z" fill="#0000ff"/>
<path d="M225.63 324.99L227.23 328.03L224.03 328.03Z" fill="#0000ff"/>
<path d="M200.40 324.99L202.00 328.03L198.80 328.03Z" fill="#0000ff"/>
<path d="M226.65 319.74L228.25 322.78L225.05 322.78Z" fill="#0000ff"/>
<path d="M200.04 319.74L201.64 322.78L198.44 322.78Z" fill="#0000ff"/>
<path d="M227.67 314.61L229.27 317.65L226.07 317.65Z" fill="#0000ff"/>
<path d="M199.68 314.61L201.28 317.65L198.08 317.65Z" fill="#0000ff"/>
<path d="M228.69 309.65L230.29 312.69L227.09 312.69Z" fill="#0000ff"/>
<path d="M199.31 309.65L200.91 312.69L197.71 312.69Z" fill="#0000ff"/>
<path d="M229.71 304.85L231.31 307.89L228.11 307.89Z" fill="#0000ff"/>
<path d="M198.93 304.85L200.53 307.89L197.33 307.89Z" fill="#0000ff"/>
<path d="M230.72 300.13L232.32 303.17L229.12 303.17Z" fill="#0000ff"/>
<path d="M198.51 300.13L200.11 303.17L196.91 303.17Z" fill="#0000ff"/>
<path d="M231.74 295.50L233.34 298.54L230.14 298.54Z" fill="#0000ff"/>
<path d="M198.04 295.50L199.64 298.54L196.44 298.54Z" fill="#0000ff"/>
<path d="M232.76 290.95L234.36 293.99L231.16 293.99Z" fill="#0000ff"/>
<path d="M197.53 290.95L199.13 293.99L195.93 293.99Z" fill="#0000ff"/>
<path d="M233.78 286.46L235.38 289.50L232.18 289.50Z" fill="#0000ff"/>
<path d="M196.98 286.46L198.58 289.50L195.38 289.50Z" fill="#0000ff"/>
<path d="M234.80 282.03L236.40 285.07L233.20 285.07Z" fill="#0000ff"/>
<path d="M196.41 282.03L198.01 285.07L194.81 285.07Z" fill="#0000ff"/>
<path d="M235.82 277.66L237.42 280.70L234.22 280.70Z" fill="#0000ff"/>
<path d="M195.82 277.66L197.42 280.70L194.22 280.70Z" fill="#0000ff"/>
<path d="M236.84 273.34L238.44 276.38L235.24 276.38Z" fill="#0000ff"/>
<path d="M195.21 273.34L196.81 276.38L193.61 276.38Z" fill="#0000ff"/>
<path d="M237.86 269.07L239.46 272.11L236.26 272.11Z" fill="#0000ff"/>
<path d="M194.58 269.07L196.18 272.11L192.98 272.11Z" fill="#0000ff"/>
<path d="M238.88 264.85L240.48 267.89L237.28 267.89Z" fill="#0000ff"/>
<path d="M193.95 264.85L195.55 267.89L192.35 267.89Z" fill="#0000ff"/>
<path d="M239.90 260.66L241.50 263.70L238.30 263.70Z" fill="#0000ff"/>
<path d="M193.30 260.66L194.90 263.70L191.70 263.70Z" fill="#0000ff"/>
<path d="M203.2 431.3L203.17 428.44L203.13 425.58L203.08 422.72L203.02 419.85L202.96 416.99L202.89 414.13L202.82 411.27L202.74 408.41L202.66 405.55L202.57 402.68L202.47 399.82L202.38 396.96L202.27 394.1L202.17 391.24L202.06 388.38L201.95 385.51L201.83 382.65L201.72 379.79L201.6 376.93L201.47 374.07L201.35 371.21L201.23 368.34L201.09 365.48L200.94 362.62L200.79 359.76L200.62 356.9L200.45 354.04L200.26 351.17L200.07 348.31L199.87 345.45L199.67 342.59L199.46 339.73L199.24 336.87L199.02 334L198.79 331.14L198.56 328.28L198.32 325.42L198.08 322.56L197.84 319.7L197.59 316.83L197.34 313.97L197.1 311.11L196.85 308.25L196.59 305.39L196.32 302.53L196.05 299.66L195.76 296.8L195.47 293.94L195.17 291.08L194.87 288.22L194.56 285.36L194.24 282.49L193.92 279.63L193.59 276.77L193.25 273.91L192.91 271.05L192.56 268.19L192.21 265.32L191.86 262.46L191.5 259.6L190.4 259.5L30.4 397.7" stroke="#00ff00" stroke-width="0.78" fill="none" stroke-linejoin="round"/>
<path d="M203.2 431.3L203.71 428.44L204.22 425.59L204.73 422.73L205.25 419.87L205.76 417.02L206.27 414.16L206.77 411.3L207.28 408.45L207.79 405.59L208.3 402.73L208.81 399.88L209.32 397.02L209.82 394.16L210.33 391.31L210.84 388.45L211.34 385.59L211.85 382.74L212.35 379.88L212.86 377.02L213.36 374.17L213.87 371.31L214.37 368.45L214.87 365.6L215.36 362.74L215.85 359.88L216.34 357.03L216.83 354.17L217.31 351.31L217.79 348.46L218.28 345.6L218.76 342.74L219.25 339.89L219.73 337.03L220.22 334.17L220.72 331.32L221.22 328.46L221.72 325.6L222.23 322.75L222.75 319.89L223.27 317.03L223.8 314.18L224.35 311.32L224.9 308.46L225.46 305.61L226.02 302.75L226.6 299.89L227.18 297.04L227.77 294.18L228.36 291.32L228.96 288.47L229.57 285.61L230.18 282.75L230.8 279.9L231.43 277.04L232.06 274.18L232.7 271.33L233.34 268.47L233.99 265.61L234.64 262.76L235.3 259.9L294.7 398.4" stroke="#00ff00" stroke-width="0.78" fill="none" stroke-linejoin="round"/>
<path d="M203.20 433.14L204.80 430.10L201.60 430.10Z" fill="#00ff00"/>
<path d="M203.20 433.14L204.80 430.10L201.60 430.10Z" fill="#00ff00"/>
<path d="M204.20 427.54L205.80 424.50L202.60 424.50Z" fill="#00ff00"/>
<path d="M203.13 427.53L204.73 424.49L201.53 424.49Z" fill="#00ff00"/>
<path d="M205.21 421.93L206.81 418.89L203.61 418.89Z" fill="#00ff00"/>
<path d="M203.03 421.91L204.63 418.87L201.43 418.87Z" fill="#00ff00"/>
<path d="M206.21 416.31L207.81 413.27L204.61 413.27Z" fill="#00ff00"/>
<path d="M202.90 416.28L204.50 413.24L201.30 413.24Z" fill="#00ff00"/>
<path d="M207.21 410.69L208.81 407.65L205.61 407.65Z" fill="#00ff00"/>
<path d="M202.75 410.65L204.35 407.61L201.15 407.61Z" fill="#00ff00"/>
<path d="M208.22 405.05L209.82 402.01L206.62 402.01Z" fill="#00ff00"/>
<path d="M202.58 405.01L204.18 401.97L200.98 401.97Z" fill="#00ff00"/>
<path d="M209.22 399.41L210.82 396.37L207.62 396.37Z" fill="#00ff00"/>
<path d="M202.40 399.35L204.00 396.31L200.80 396.31Z" fill="#00ff00"/>
<path d="M210.22 393.76L211.82 390.72L208.62 390.72Z" fill="#00ff00"/>
<path d="M202.19 393.69L203.79 390.65L200.59 390.65Z" fill="#00ff00"/>
<path d="M211.22 388.10L212.82 385.06L209.62 385.06Z" fill="#00ff00"/>
<path d="M201.97 388.03L203.57 384.99L200.37 384.99Z" fill="#00ff00"/>
<path d="M212.23 382.44L213.83 379.40L210.63 379.40Z" fill="#00ff00"/>
<path d="M201.75 382.35L203.35 379.31L200.15 379.31Z" fill="#00ff00"/>
<path d="M213.23 376.76L214.83 373.72L211.63 373.72Z" fill="#00ff00"/>
<path d="M201.51 376.66L203.11 373.62L199.91 373.62Z" fill="#00ff00"/>
<path d="M214.23 371.08L215.83 368.04L212.63 368.04Z" fill="#00ff00"/>
<path d="M201.26 370.97L202.86 367.93L199.66 367.93Z" fill="#00ff00"/>
<path d="M215.24 365.32L216.84 362.28L213.64 362.28Z" fill="#00ff00"/>
<path d="M200.98 365.20L202.58 362.16L199.38 362.16Z" fill="#00ff00"/>
<path d="M216.24 359.46L217.84 356.42L214.64 356.42Z" fill="#00ff00"/>
<path d="M200.66 359.33L202.26 356.29L199.06 356.29Z" fill="#00ff00"/>
<path d="M217.24 353.55L218.84 350.51L215.64 350.51Z" fill="#00ff00"/>
<path d="M200.29 353.41L201.89 350.37L198.69 350.37Z" fill="#00ff00"/>
<path d="M218.25 347.61L219.85 344.57L216.65 344.57Z" fill="#00ff00"/>
<path d="M199.89 347.46L201.49 344.42L198.29 344.42Z" fill="#00ff00"/>
<path d="M219.25 341.70L220.85 338.66L217.65 338.66Z" fill="#00ff00"/>
<path d="M199.46 341.54L201.06 338.50L197.86 338.50Z" fill="#00ff00"/>
<path d="M220.25 335.84L221.85 332.80L218.65 332.80Z" fill="#00ff00"/>
<path d="M199.00 335.67L200.60 332.63L197.40 332.63Z" fill="#00ff00"/>
<path d="M221.26 330.07L222.86 327.03L219.66 327.03Z" fill="#00ff00"/>
<path d="M198.54 329.89L200.14 326.85L196.94 326.85Z" fill="#00ff00"/>
<path d="M222.26 324.43L223.86 321.39L220.66 321.39Z" fill="#00ff00"/>
<path d="M198.07 324.24L199.67 321.20L196.47 321.20Z" fill="#00ff00"/>
<path d="M223.26 318.92L224.86 315.88L221.66 315.88Z" fill="#00ff00"/>
<path d="M197.60 318.72L199.20 315.68L196.00 315.68Z" fill="#00ff00"/>
<path d="M224.27 313.58L225.87 310.54L222.67 310.54Z" fill="#00ff00"/>
<path d="M197.13 313.37L198.73 310.33L195.53 310.33Z" fill="#00ff00"/>
<path d="M225.27 308.40L226.87 305.36L223.67 305.36Z" fill="#00ff00"/>
<path d="M196.67 308.18L198.27 305.14L195.07 305.14Z" fill="#00ff00"/>
<path d="M226.27 303.35L227.87 300.31L224.67 300.31Z" fill="#00ff00"/>
<path d="M196.20 303.12L197.80 300.08L194.60 300.08Z" fill="#00ff00"/>
<path d="M227.28 298.40L228.88 295.36L225.68 295.36Z" fill="#00ff00"/>
<path d="M195.71 298.17L197.31 295.13L194.11 295.13Z" fill="#00ff00"/>
<path d="M228.28 293.56L229.88 290.52L226.68 290.52Z" fill="#00ff00"/>
<path d="M195.22 293.31L196.82 290.27L193.62 290.27Z" fill="#00ff00"/>
<path d="M229.28 288.80L230.88 285.76L227.68 285.76Z" fill="#00ff00"/>
<path d="M194.71 288.55L196.31 285.51L193.11 285.51Z" fill="#00ff00"/>
<path d="M230.28 284.13L231.88 281.09L228.68 281.09Z" fill="#00ff00"/>
<path d="M194.19 283.87L195.79 280.83L192.59 280.83Z" fill="#00ff00"/>
<path d="M231.29 279.53L232.89 276.49L229.69 276.49Z" fill="#00ff00"/>
<path d="M193.66 279.26L195.26 276.22L192.06 276.22Z" fill="#00ff00"/>
<path d="M232.29 274.99L233.89 271.95L230.69 271.95Z" fill="#00ff00"/>
<path d="M193.13 274.72L194.73 271.68L191.53 271.68Z" fill="#00ff00"/>
<path d="M233.29 270.52L234.89 267.48L231.69 267.48Z" fill="#00ff00"/>
<path d="M192.59 270.24L194.19 267.20L190.99 267.20Z" fill="#00ff00"/>
<path d="M234.30 266.10L235.90 263.06L232.70 263.06Z" fill="#00ff00"/>
<path d="M192.05 265.81L193.65 262.77L190.45 262.77Z" fill="#00ff00"/>
<path d="M235.30 261.74L236.90 258.70L233.70 258.70Z" fill="#00ff00"/>
<path d="M191.50 261.44L193.10 258.40L189.90 258.40Z" fill="#00ff00"/>
<rect x="259.4" y="251.2" width="53" height="46.3" fill="#fff" stroke="#a2a2a2" stroke-width="1"/>
<path d="M260.2 257.4H281.4" stroke="#000000" stroke-width="0.78"/>
<rect x="269.45" y="256.25" width="2.3" height="2.3" fill="#000000"/>
<text x="283.2" y="260.55" font-size="9.12">0</text>
<path d="M260.2 268.9H281.4" stroke="#ff0000" stroke-width="0.78"/>
<circle cx="270.60" cy="268.90" r="1.4" fill="#ff0000"/>
<text x="283.2" y="272.05" font-size="9.12">100kPa</text>
<path d="M260.2 280.5H281.4" stroke="#0000ff" stroke-width="0.78"/>
<path d="M270.60 278.66L272.20 281.70L269.00 281.70Z" fill="#0000ff"/>
<text x="283.2" y="283.65" font-size="9.12">200kPa</text>
<path d="M260.2 291.7H281.4" stroke="#00ff00" stroke-width="0.78"/>
<path d="M270.60 293.54L272.20 290.50L269.00 290.50Z" fill="#00ff00"/>
<text x="283.2" y="294.85" font-size="9.12">300kPa</text></g>
<g id="plot-d"><path d="M365.45 431.2H684.05M551.3 431.2V252.9" stroke="#6c6c6c" stroke-width="1.55" fill="none"/>
<path d="M365.45 431.2v2M392 431.2v3.4M418.55 431.2v2M445.1 431.2v3.4M471.65 431.2v2M498.2 431.2v3.4M524.75 431.2v2M551.3 431.2v3.4M577.85 431.2v2M604.4 431.2v3.4M630.95 431.2v2M657.5 431.2v3.4M684.05 431.2v2M551.3 431.2h-3.4M551.3 408.4h-2M551.3 385.6h-3.4M551.3 362.8h-2M551.3 340h-3.4M551.3 317.2h-2M551.3 294.4h-3.4M551.3 271.6h-2" stroke="#484848" stroke-width="1.1" fill="none"/>
<text x="392" y="443.8" class="t" font-size="7.5" text-anchor="middle">−3</text>
<text x="445.1" y="443.8" class="t" font-size="7.5" text-anchor="middle">−2</text>
<text x="498.2" y="443.8" class="t" font-size="7.5" text-anchor="middle">−1</text>
<text x="551.3" y="443.8" class="t" font-size="7.5" text-anchor="middle">0</text>
<text x="604.4" y="443.8" class="t" font-size="7.5" text-anchor="middle">1</text>
<text x="657.5" y="443.8" class="t" font-size="7.5" text-anchor="middle">2</text>
<text x="545.5" y="434.25" class="t" font-size="7.5" text-anchor="end">0</text>
<text x="545.5" y="388.65" class="t" font-size="7.5" text-anchor="end">50</text>
<text x="545.5" y="343.05" class="t" font-size="7.5" text-anchor="end">100</text>
<text x="545.5" y="297.45" class="t" font-size="7.5" text-anchor="end">150</text>
<text x="535.8" y="451.7" font-size="9.28" text-anchor="end">Radial strain/%</text>
<text x="577.7" y="451.5" font-size="9.28">Axial strain/%</text>
<text transform="translate(560.2 253.1) rotate(-90)" font-size="9.2" text-anchor="end">Stress/MPa</text>
<text x="539.6" y="473.1" font-size="12.8" text-anchor="middle">(d)</text>
<path d="M551.3 431.2L551.17 428.52L551.05 425.84L550.93 423.16L550.8 420.48L550.68 417.8L550.56 415.12L550.45 412.44L550.33 409.76L550.22 407.08L550.1 404.4L549.99 401.72L549.88 399.04L549.77 396.36L549.67 393.68L549.56 391L549.46 388.32L549.36 385.64L549.26 382.96L549.16 380.28L549.06 377.6L548.97 374.92L548.88 372.24L548.79 369.56L548.7 366.88L548.62 364.2L548.55 361.52L548.47 358.84L548.41 356.16L548.34 353.48L548.28 350.8L548.22 348.12L548.16 345.44L548.1 342.76L548.04 340.08L547.98 337.4L547.91 334.72L547.85 332.04L547.78 329.36L547.7 326.68L547.62 324L547.54 321.32L547.45 318.64L547.35 315.96L547.24 313.28L547.13 310.6L547 307.92L546.85 305.24L546.67 302.56L546.48 299.88L546.26 297.2L546.03 294.52L545.78 291.84L545.51 289.16L545.24 286.48L544.95 283.8L544.65 281.12L544.35 278.44L544.03 275.76L543.72 273.08L543.4 270.4L494.1 415.8" stroke="#000000" stroke-width="0.78" fill="none" stroke-linejoin="round"/>
<path d="M551.3 431.2L551.68 428.53L552.07 425.86L552.45 423.19L552.84 420.51L553.22 417.84L553.61 415.17L554 412.5L554.39 409.83L554.78 407.15L555.17 404.48L555.56 401.81L555.95 399.14L556.35 396.47L556.74 393.8L557.14 391.12L557.54 388.45L557.93 385.78L558.33 383.11L558.73 380.44L559.13 377.77L559.53 375.09L559.93 372.42L560.34 369.75L560.74 367.08L561.14 364.41L561.54 361.74L561.94 359.06L562.34 356.39L562.73 353.72L563.13 351.05L563.53 348.38L563.93 345.71L564.34 343.03L564.74 340.36L565.15 337.69L565.56 335.02L565.97 332.35L566.38 329.68L566.81 327L567.23 324.33L567.66 321.66L568.09 318.99L568.53 316.32L568.98 313.65L569.43 310.97L569.89 308.3L570.36 305.63L570.83 302.96L571.32 300.29L571.81 297.62L572.3 294.94L572.8 292.27L573.31 289.6L573.82 286.93L574.34 284.26L574.86 281.59L575.39 278.91L575.92 276.24L576.46 273.57L577 270.9L658.8 415.3" stroke="#000000" stroke-width="0.78" fill="none" stroke-linejoin="round"/>
<rect x="550.15" y="430.05" width="2.3" height="2.3" fill="#000000"/>
<rect x="550.15" y="430.05" width="2.3" height="2.3" fill="#000000"/>
<rect x="551.07" y="423.65" width="2.3" height="2.3" fill="#000000"/>
<rect x="549.85" y="423.63" width="2.3" height="2.3" fill="#000000"/>
<rect x="551.99" y="417.29" width="2.3" height="2.3" fill="#000000"/>
<rect x="549.56" y="417.25" width="2.3" height="2.3" fill="#000000"/>
<rect x="552.90" y="410.97" width="2.3" height="2.3" fill="#000000"/>
<rect x="549.28" y="410.91" width="2.3" height="2.3" fill="#000000"/>
<rect x="553.82" y="404.68" width="2.3" height="2.3" fill="#000000"/>
<rect x="549.01" y="404.61" width="2.3" height="2.3" fill="#000000"/>
<rect x="554.74" y="398.43" width="2.3" height="2.3" fill="#000000"/>
<rect x="548.75" y="398.33" width="2.3" height="2.3" fill="#000000"/>
<rect x="555.66" y="392.22" width="2.3" height="2.3" fill="#000000"/>
<rect x="548.50" y="392.10" width="2.3" height="2.3" fill="#000000"/>
<rect x="556.58" y="386.03" width="2.3" height="2.3" fill="#000000"/>
<rect x="548.26" y="385.89" width="2.3" height="2.3" fill="#000000"/>
<rect x="557.49" y="379.88" width="2.3" height="2.3" fill="#000000"/>
<rect x="548.03" y="379.72" width="2.3" height="2.3" fill="#000000"/>
<rect x="558.41" y="373.76" width="2.3" height="2.3" fill="#000000"/>
<rect x="547.81" y="373.58" width="2.3" height="2.3" fill="#000000"/>
<rect x="559.33" y="367.67" width="2.3" height="2.3" fill="#000000"/>
<rect x="547.60" y="367.47" width="2.3" height="2.3" fill="#000000"/>
<rect x="560.25" y="361.54" width="2.3" height="2.3" fill="#000000"/>
<rect x="547.42" y="361.33" width="2.3" height="2.3" fill="#000000"/>
<rect x="561.16" y="355.39" width="2.3" height="2.3" fill="#000000"/>
<rect x="547.26" y="355.16" width="2.3" height="2.3" fill="#000000"/>
<rect x="562.08" y="349.24" width="2.3" height="2.3" fill="#000000"/>
<rect x="547.12" y="348.99" width="2.3" height="2.3" fill="#000000"/>
<rect x="563.00" y="343.12" width="2.3" height="2.3" fill="#000000"/>
<rect x="546.98" y="342.84" width="2.3" height="2.3" fill="#000000"/>
<rect x="563.92" y="337.06" width="2.3" height="2.3" fill="#000000"/>
<rect x="546.84" y="336.77" width="2.3" height="2.3" fill="#000000"/>
<rect x="564.84" y="331.09" width="2.3" height="2.3" fill="#000000"/>
<rect x="546.69" y="330.78" width="2.3" height="2.3" fill="#000000"/>
<rect x="565.75" y="325.23" width="2.3" height="2.3" fill="#000000"/>
<rect x="546.53" y="324.91" width="2.3" height="2.3" fill="#000000"/>
<rect x="566.67" y="319.51" width="2.3" height="2.3" fill="#000000"/>
<rect x="546.35" y="319.17" width="2.3" height="2.3" fill="#000000"/>
<rect x="567.59" y="313.94" width="2.3" height="2.3" fill="#000000"/>
<rect x="546.15" y="313.57" width="2.3" height="2.3" fill="#000000"/>
<rect x="568.51" y="308.52" width="2.3" height="2.3" fill="#000000"/>
<rect x="545.92" y="308.14" width="2.3" height="2.3" fill="#000000"/>
<rect x="569.42" y="303.27" width="2.3" height="2.3" fill="#000000"/>
<rect x="545.62" y="302.87" width="2.3" height="2.3" fill="#000000"/>
<rect x="570.34" y="298.17" width="2.3" height="2.3" fill="#000000"/>
<rect x="545.25" y="297.76" width="2.3" height="2.3" fill="#000000"/>
<rect x="571.26" y="293.21" width="2.3" height="2.3" fill="#000000"/>
<rect x="544.82" y="292.78" width="2.3" height="2.3" fill="#000000"/>
<rect x="572.18" y="288.35" width="2.3" height="2.3" fill="#000000"/>
<rect x="544.35" y="287.91" width="2.3" height="2.3" fill="#000000"/>
<rect x="573.10" y="283.59" width="2.3" height="2.3" fill="#000000"/>
<rect x="543.85" y="283.13" width="2.3" height="2.3" fill="#000000"/>
<rect x="574.01" y="278.91" width="2.3" height="2.3" fill="#000000"/>
<rect x="543.33" y="278.44" width="2.3" height="2.3" fill="#000000"/>
<rect x="574.93" y="274.30" width="2.3" height="2.3" fill="#000000"/>
<rect x="542.79" y="273.82" width="2.3" height="2.3" fill="#000000"/>
<rect x="575.85" y="269.75" width="2.3" height="2.3" fill="#000000"/>
<rect x="542.25" y="269.25" width="2.3" height="2.3" fill="#000000"/>
<path d="M551.3 431.2L551.16 428.46L551.03 425.72L550.9 422.99L550.77 420.25L550.64 417.51L550.52 414.77L550.39 412.03L550.27 409.29L550.16 406.56L550.04 403.82L549.93 401.08L549.82 398.34L549.71 395.6L549.61 392.86L549.51 390.12L549.42 387.39L549.33 384.65L549.24 381.91L549.15 379.17L549.07 376.43L549 373.69L548.92 370.96L548.86 368.22L548.79 365.48L548.74 362.74L548.68 360L548.63 357.26L548.59 354.53L548.54 351.79L548.5 349.05L548.46 346.31L548.42 343.57L548.39 340.83L548.35 338.1L548.31 335.36L548.26 332.62L548.22 329.88L548.18 327.14L548.13 324.4L548.08 321.67L548.02 318.93L547.96 316.19L547.89 313.45L547.82 310.71L547.74 307.97L547.65 305.24L547.55 302.5L547.43 299.76L547.31 297.02L547.18 294.28L547.03 291.54L546.89 288.81L546.73 286.07L546.57 283.33L546.4 280.59L546.23 277.85L546.05 275.12L545.87 272.38L545.69 269.64L545.5 266.9L542 273.1L539.8 274.4L536.8 290.2L533.6 306.3" stroke="#ff0000" stroke-width="0.78" fill="none" stroke-linejoin="round"/>
<path d="M551.3 431.2L551.64 428.46L551.97 425.72L552.31 422.99L552.65 420.25L553 417.51L553.34 414.77L553.68 412.03L554.03 409.29L554.37 406.56L554.72 403.82L555.07 401.08L555.42 398.34L555.77 395.6L556.12 392.86L556.47 390.12L556.83 387.39L557.18 384.65L557.54 381.91L557.9 379.17L558.25 376.43L558.61 373.69L558.97 370.96L559.34 368.22L559.7 365.48L560.07 362.74L560.43 360L560.8 357.26L561.17 354.53L561.55 351.79L561.92 349.05L562.3 346.31L562.67 343.57L563.05 340.83L563.43 338.1L563.8 335.36L564.18 332.62L564.56 329.88L564.94 327.14L565.32 324.4L565.7 321.67L566.07 318.93L566.45 316.19L566.83 313.45L567.2 310.71L567.58 307.97L567.95 305.24L568.33 302.5L568.7 299.76L569.08 297.02L569.45 294.28L569.83 291.54L570.2 288.81L570.57 286.07L570.95 283.33L571.32 280.59L571.7 277.85L572.07 275.12L572.45 272.38L572.82 269.64L573.2 266.9L574.5 305.4" stroke="#ff0000" stroke-width="0.78" fill="none" stroke-linejoin="round"/>
<circle cx="551.30" cy="431.20" r="1.4" fill="#ff0000"/>
<circle cx="551.30" cy="431.20" r="1.4" fill="#ff0000"/>
<circle cx="552.21" cy="423.80" r="1.4" fill="#ff0000"/>
<circle cx="550.94" cy="423.80" r="1.4" fill="#ff0000"/>
<circle cx="553.12" cy="416.48" r="1.4" fill="#ff0000"/>
<circle cx="550.59" cy="416.48" r="1.4" fill="#ff0000"/>
<circle cx="554.04" cy="409.21" r="1.4" fill="#ff0000"/>
<circle cx="550.27" cy="409.21" r="1.4" fill="#ff0000"/>
<circle cx="554.95" cy="402.02" r="1.4" fill="#ff0000"/>
<circle cx="549.97" cy="402.02" r="1.4" fill="#ff0000"/>
<circle cx="555.86" cy="394.88" r="1.4" fill="#ff0000"/>
<circle cx="549.69" cy="394.88" r="1.4" fill="#ff0000"/>
<circle cx="556.77" cy="387.79" r="1.4" fill="#ff0000"/>
<circle cx="549.43" cy="387.79" r="1.4" fill="#ff0000"/>
<circle cx="557.69" cy="380.77" r="1.4" fill="#ff0000"/>
<circle cx="549.20" cy="380.77" r="1.4" fill="#ff0000"/>
<circle cx="558.60" cy="373.80" r="1.4" fill="#ff0000"/>
<circle cx="549.00" cy="373.80" r="1.4" fill="#ff0000"/>
<circle cx="559.51" cy="366.88" r="1.4" fill="#ff0000"/>
<circle cx="548.83" cy="366.88" r="1.4" fill="#ff0000"/>
<circle cx="560.42" cy="360.06" r="1.4" fill="#ff0000"/>
<circle cx="548.69" cy="360.06" r="1.4" fill="#ff0000"/>
<circle cx="561.34" cy="353.32" r="1.4" fill="#ff0000"/>
<circle cx="548.57" cy="353.32" r="1.4" fill="#ff0000"/>
<circle cx="562.25" cy="346.64" r="1.4" fill="#ff0000"/>
<circle cx="548.47" cy="346.64" r="1.4" fill="#ff0000"/>
<circle cx="563.16" cy="340.01" r="1.4" fill="#ff0000"/>
<circle cx="548.37" cy="340.01" r="1.4" fill="#ff0000"/>
<circle cx="564.08" cy="333.40" r="1.4" fill="#ff0000"/>
<circle cx="548.28" cy="333.40" r="1.4" fill="#ff0000"/>
<circle cx="564.99" cy="326.80" r="1.4" fill="#ff0000"/>
<circle cx="548.17" cy="326.80" r="1.4" fill="#ff0000"/>
<circle cx="565.90" cy="320.19" r="1.4" fill="#ff0000"/>
<circle cx="548.05" cy="320.19" r="1.4" fill="#ff0000"/>
<circle cx="566.81" cy="313.56" r="1.4" fill="#ff0000"/>
<circle cx="547.89" cy="313.56" r="1.4" fill="#ff0000"/>
<circle cx="567.72" cy="306.89" r="1.4" fill="#ff0000"/>
<circle cx="547.70" cy="306.89" r="1.4" fill="#ff0000"/>
<circle cx="568.64" cy="300.22" r="1.4" fill="#ff0000"/>
<circle cx="547.45" cy="300.22" r="1.4" fill="#ff0000"/>
<circle cx="569.55" cy="293.56" r="1.4" fill="#ff0000"/>
<circle cx="547.14" cy="293.56" r="1.4" fill="#ff0000"/>
<circle cx="570.46" cy="286.89" r="1.4" fill="#ff0000"/>
<circle cx="546.78" cy="286.89" r="1.4" fill="#ff0000"/>
<circle cx="571.38" cy="280.23" r="1.4" fill="#ff0000"/>
<circle cx="546.38" cy="280.23" r="1.4" fill="#ff0000"/>
<circle cx="572.29" cy="273.56" r="1.4" fill="#ff0000"/>
<circle cx="545.95" cy="273.56" r="1.4" fill="#ff0000"/>
<circle cx="573.20" cy="266.90" r="1.4" fill="#ff0000"/>
<circle cx="545.50" cy="266.90" r="1.4" fill="#ff0000"/>
<circle cx="536.80" cy="290.20" r="1.4" fill="#ff0000"/>
<path d="M551.3 431.2L551.17 428.38L551.05 425.55L550.92 422.73L550.8 419.91L550.67 417.08L550.55 414.26L550.43 411.44L550.31 408.61L550.19 405.79L550.07 402.97L549.96 400.14L549.84 397.32L549.73 394.5L549.62 391.67L549.5 388.85L549.4 386.03L549.29 383.2L549.18 380.38L549.07 377.56L548.97 374.73L548.87 371.91L548.77 369.09L548.67 366.26L548.58 363.44L548.49 360.62L548.41 357.79L548.33 354.97L548.25 352.15L548.18 349.32L548.1 346.5L548.03 343.68L547.95 340.85L547.88 338.03L547.8 335.21L547.72 332.38L547.63 329.56L547.54 326.74L547.45 323.91L547.35 321.09L547.25 318.27L547.14 315.44L547.02 312.62L546.89 309.8L546.75 306.97L546.6 304.15L546.43 301.33L546.25 298.5L546.05 295.68L545.85 292.86L545.63 290.03L545.4 287.21L545.16 284.39L544.92 281.56L544.66 278.74L544.4 275.92L544.13 273.09L543.85 270.27L543.57 267.45L543.29 264.62L543 261.8L382.4 396.4" stroke="#0000ff" stroke-width="0.78" fill="none" stroke-linejoin="round"/>
<path d="M551.3 431.2L551.64 428.4L551.97 425.61L552.31 422.81L552.66 420.01L553 417.22L553.35 414.42L553.7 411.62L554.05 408.83L554.41 406.03L554.77 403.23L555.13 400.44L555.49 397.64L555.86 394.84L556.22 392.05L556.59 389.25L556.97 386.45L557.34 383.66L557.72 380.86L558.1 378.06L558.48 375.27L558.86 372.47L559.25 369.67L559.63 366.88L560.02 364.08L560.42 361.28L560.82 358.49L561.22 355.69L561.62 352.89L562.03 350.1L562.44 347.3L562.85 344.5L563.26 341.71L563.68 338.91L564.1 336.11L564.52 333.32L564.94 330.52L565.37 327.72L565.8 324.93L566.22 322.13L566.65 319.33L567.09 316.54L567.52 313.74L567.95 310.94L568.39 308.15L568.83 305.35L569.27 302.55L569.71 299.76L570.16 296.96L570.61 294.16L571.06 291.37L571.51 288.57L571.97 285.77L572.43 282.98L572.89 280.18L573.35 277.38L573.82 274.59L574.29 271.79L574.76 268.99L575.23 266.2L575.7 263.4L608.6 396.3" stroke="#0000ff" stroke-width="0.78" fill="none" stroke-linejoin="round"/>
<path d="M551.30 429.36L552.90 432.40L549.70 432.40Z" fill="#0000ff"/>
<path d="M551.30 429.36L552.90 432.40L549.70 432.40Z" fill="#0000ff"/>
<path d="M552.24 421.58L553.84 424.62L550.64 424.62Z" fill="#0000ff"/>
<path d="M550.95 421.51L552.55 424.55L549.35 424.55Z" fill="#0000ff"/>
<path d="M553.18 413.97L554.78 417.01L551.58 417.01Z" fill="#0000ff"/>
<path d="M550.61 413.82L552.21 416.86L549.01 416.86Z" fill="#0000ff"/>
<path d="M554.12 406.50L555.72 409.54L552.52 409.54Z" fill="#0000ff"/>
<path d="M550.29 406.28L551.89 409.32L548.69 409.32Z" fill="#0000ff"/>
<path d="M555.05 399.17L556.65 402.21L553.45 402.21Z" fill="#0000ff"/>
<path d="M549.98 398.88L551.58 401.92L548.38 401.92Z" fill="#0000ff"/>
<path d="M555.99 391.96L557.59 395.00L554.39 395.00Z" fill="#0000ff"/>
<path d="M549.69 391.61L551.29 394.65L548.09 394.65Z" fill="#0000ff"/>
<path d="M556.93 384.87L558.53 387.91L555.33 387.91Z" fill="#0000ff"/>
<path d="M549.41 384.45L551.01 387.49L547.81 387.49Z" fill="#0000ff"/>
<path d="M557.87 377.89L559.47 380.93L556.27 380.93Z" fill="#0000ff"/>
<path d="M549.14 377.40L550.74 380.44L547.54 380.44Z" fill="#0000ff"/>
<path d="M558.81 371.01L560.41 374.05L557.21 374.05Z" fill="#0000ff"/>
<path d="M548.88 370.45L550.48 373.49L547.28 373.49Z" fill="#0000ff"/>
<path d="M559.75 364.23L561.35 367.27L558.15 367.27Z" fill="#0000ff"/>
<path d="M548.64 363.61L550.24 366.65L547.04 366.65Z" fill="#0000ff"/>
<path d="M560.68 357.58L562.28 360.62L559.08 360.62Z" fill="#0000ff"/>
<path d="M548.44 356.89L550.04 359.93L546.84 359.93Z" fill="#0000ff"/>
<path d="M561.62 351.05L563.22 354.09L560.02 354.09Z" fill="#0000ff"/>
<path d="M548.25 350.30L549.85 353.34L546.65 353.34Z" fill="#0000ff"/>
<path d="M562.56 344.62L564.16 347.66L560.96 347.66Z" fill="#0000ff"/>
<path d="M548.08 343.81L549.68 346.85L546.48 346.85Z" fill="#0000ff"/>
<path d="M563.50 338.28L565.10 341.32L561.90 341.32Z" fill="#0000ff"/>
<path d="M547.91 337.41L549.51 340.45L546.31 340.45Z" fill="#0000ff"/>
<path d="M564.44 332.02L566.04 335.06L562.84 335.06Z" fill="#0000ff"/>
<path d="M547.73 331.09L549.33 334.13L546.13 334.13Z" fill="#0000ff"/>
<path d="M565.38 325.83L566.98 328.87L563.78 328.87Z" fill="#0000ff"/>
<path d="M547.54 324.84L549.14 327.88L545.94 327.88Z" fill="#0000ff"/>
<path d="M566.32 319.69L567.92 322.73L564.72 322.73Z" fill="#0000ff"/>
<path d="M547.33 318.65L548.93 321.69L545.73 321.69Z" fill="#0000ff"/>
<path d="M567.25 313.61L568.85 316.65L565.65 316.65Z" fill="#0000ff"/>
<path d="M547.09 312.51L548.69 315.55L545.49 315.55Z" fill="#0000ff"/>
<path d="M568.19 307.57L569.79 310.61L566.59 310.61Z" fill="#0000ff"/>
<path d="M546.82 306.41L548.42 309.45L545.22 309.45Z" fill="#0000ff"/>
<path d="M569.13 301.59L570.73 304.63L567.53 304.63Z" fill="#0000ff"/>
<path d="M546.48 300.37L548.08 303.41L544.88 303.41Z" fill="#0000ff"/>
<path d="M570.07 295.68L571.67 298.72L568.47 298.72Z" fill="#0000ff"/>
<path d="M546.09 294.41L547.69 297.45L544.49 297.45Z" fill="#0000ff"/>
<path d="M571.01 289.85L572.61 292.89L569.41 292.89Z" fill="#0000ff"/>
<path d="M545.65 288.52L547.25 291.56L544.05 291.56Z" fill="#0000ff"/>
<path d="M571.95 284.08L573.55 287.12L570.35 287.12Z" fill="#0000ff"/>
<path d="M545.18 282.70L546.78 285.74L543.58 285.74Z" fill="#0000ff"/>
<path d="M572.88 278.37L574.48 281.41L571.28 281.41Z" fill="#0000ff"/>
<path d="M544.66 276.93L546.26 279.97L543.06 279.97Z" fill="#0000ff"/>
<path d="M573.82 272.72L575.42 275.76L572.22 275.76Z" fill="#0000ff"/>
<path d="M544.13 271.23L545.73 274.27L542.53 274.27Z" fill="#0000ff"/>
<path d="M574.76 267.12L576.36 270.16L573.16 270.16Z" fill="#0000ff"/>
<path d="M543.57 265.57L545.17 268.61L541.97 268.61Z" fill="#0000ff"/>
<path d="M575.70 261.56L577.30 264.60L574.10 264.60Z" fill="#0000ff"/>
<path d="M543.00 259.96L544.60 263.00L541.40 263.00Z" fill="#0000ff"/>
<path d="M551.3 431.2L551.22 428.35L551.14 425.5L551.06 422.65L550.97 419.81L550.89 416.96L550.8 414.11L550.71 411.26L550.61 408.41L550.52 405.56L550.42 402.72L550.32 399.87L550.22 397.02L550.12 394.17L550.02 391.32L549.91 388.48L549.81 385.63L549.7 382.78L549.59 379.93L549.48 377.08L549.37 374.23L549.26 371.38L549.14 368.54L549.03 365.69L548.91 362.84L548.79 359.99L548.67 357.14L548.55 354.3L548.43 351.45L548.3 348.6L548.17 345.75L548.04 342.9L547.91 340.05L547.77 337.2L547.63 334.36L547.49 331.51L547.35 328.66L547.2 325.81L547.04 322.96L546.89 320.12L546.73 317.27L546.56 314.42L546.39 311.57L546.22 308.72L546.04 305.87L545.85 303.02L545.66 300.18L545.45 297.33L545.24 294.48L545.03 291.63L544.8 288.78L544.58 285.94L544.34 283.09L544.1 280.24L543.86 277.39L543.61 274.54L543.36 271.69L543.1 268.85L542.83 266L542.57 263.15L542.3 260.3L424.3 404.2" stroke="#00ff00" stroke-width="0.78" fill="none" stroke-linejoin="round"/>
<path d="M551.3 431.2L551.81 428.34L552.31 425.49L552.81 422.63L553.31 419.78L553.81 416.93L554.31 414.07L554.81 411.21L555.3 408.36L555.8 405.5L556.29 402.65L556.78 399.79L557.27 396.94L557.75 394.08L558.24 391.23L558.72 388.38L559.21 385.52L559.69 382.66L560.17 379.81L560.64 376.95L561.12 374.1L561.59 371.25L562.07 368.39L562.54 365.53L563 362.68L563.47 359.82L563.93 356.97L564.39 354.12L564.85 351.26L565.31 348.4L565.76 345.55L566.22 342.69L566.67 339.84L567.12 336.98L567.57 334.13L568.02 331.27L568.48 328.42L568.93 325.56L569.38 322.71L569.83 319.85L570.28 317L570.74 314.14L571.19 311.29L571.65 308.43L572.11 305.58L572.56 302.72L573.02 299.87L573.47 297.01L573.93 294.16L574.39 291.3L574.84 288.45L575.3 285.59L575.75 282.74L576.21 279.88L576.67 277.03L577.12 274.17L577.58 271.32L578.03 268.46L578.49 265.61L578.94 262.75L579.4 259.9L647 404.4" stroke="#00ff00" stroke-width="0.78" fill="none" stroke-linejoin="round"/>
<path d="M551.30 433.04L552.90 430.00L549.70 430.00Z" fill="#00ff00"/>
<path d="M551.30 433.04L552.90 430.00L549.70 430.00Z" fill="#00ff00"/>
<path d="M552.24 427.75L553.84 424.71L550.64 424.71Z" fill="#00ff00"/>
<path d="M551.15 427.76L552.75 424.72L549.55 424.72Z" fill="#00ff00"/>
<path d="M553.17 422.42L554.77 419.38L551.57 419.38Z" fill="#00ff00"/>
<path d="M551.00 422.45L552.60 419.41L549.40 419.41Z" fill="#00ff00"/>
<path d="M554.11 417.07L555.71 414.03L552.51 414.03Z" fill="#00ff00"/>
<path d="M550.83 417.10L552.43 414.06L549.23 414.06Z" fill="#00ff00"/>
<path d="M555.05 411.68L556.65 408.64L553.45 408.64Z" fill="#00ff00"/>
<path d="M550.66 411.73L552.26 408.69L549.06 408.69Z" fill="#00ff00"/>
<path d="M555.98 406.26L557.58 403.22L554.38 403.22Z" fill="#00ff00"/>
<path d="M550.48 406.32L552.08 403.28L548.88 403.28Z" fill="#00ff00"/>
<path d="M556.92 400.81L558.52 397.77L555.32 397.77Z" fill="#00ff00"/>
<path d="M550.29 400.89L551.89 397.85L548.69 397.85Z" fill="#00ff00"/>
<path d="M557.86 395.33L559.46 392.29L556.26 392.29Z" fill="#00ff00"/>
<path d="M550.10 395.41L551.70 392.37L548.50 392.37Z" fill="#00ff00"/>
<path d="M558.79 389.81L560.39 386.77L557.19 386.77Z" fill="#00ff00"/>
<path d="M549.90 389.91L551.50 386.87L548.30 386.87Z" fill="#00ff00"/>
<path d="M559.73 384.25L561.33 381.21L558.13 381.21Z" fill="#00ff00"/>
<path d="M549.69 384.36L551.29 381.32L548.09 381.32Z" fill="#00ff00"/>
<path d="M560.67 378.66L562.27 375.62L559.07 375.62Z" fill="#00ff00"/>
<path d="M549.48 378.78L551.08 375.74L547.88 375.74Z" fill="#00ff00"/>
<path d="M561.60 373.03L563.20 369.99L560.00 369.99Z" fill="#00ff00"/>
<path d="M549.25 373.17L550.85 370.13L547.65 370.13Z" fill="#00ff00"/>
<path d="M562.54 367.35L564.14 364.31L560.94 364.31Z" fill="#00ff00"/>
<path d="M549.02 367.50L550.62 364.46L547.42 364.46Z" fill="#00ff00"/>
<path d="M563.48 361.61L565.08 358.57L561.88 358.57Z" fill="#00ff00"/>
<path d="M548.79 361.77L550.39 358.73L547.19 358.73Z" fill="#00ff00"/>
<path d="M564.41 355.81L566.01 352.77L562.81 352.77Z" fill="#00ff00"/>
<path d="M548.54 355.99L550.14 352.95L546.94 352.95Z" fill="#00ff00"/>
<path d="M565.35 349.96L566.95 346.92L563.75 346.92Z" fill="#00ff00"/>
<path d="M548.29 350.16L549.89 347.12L546.69 347.12Z" fill="#00ff00"/>
<path d="M566.29 344.08L567.89 341.04L564.69 341.04Z" fill="#00ff00"/>
<path d="M548.02 344.29L549.62 341.25L546.42 341.25Z" fill="#00ff00"/>
<path d="M567.22 338.18L568.82 335.14L565.62 335.14Z" fill="#00ff00"/>
<path d="M547.74 338.40L549.34 335.36L546.14 335.36Z" fill="#00ff00"/>
<path d="M568.16 332.26L569.76 329.22L566.56 329.22Z" fill="#00ff00"/>
<path d="M547.45 332.49L549.05 329.45L545.85 329.45Z" fill="#00ff00"/>
<path d="M569.10 326.34L570.70 323.30L567.50 323.30Z" fill="#00ff00"/>
<path d="M547.14 326.59L548.74 323.55L545.54 323.55Z" fill="#00ff00"/>
<path d="M570.03 320.42L571.63 317.38L568.43 317.38Z" fill="#00ff00"/>
<path d="M546.82 320.69L548.42 317.65L545.22 317.65Z" fill="#00ff00"/>
<path d="M570.97 314.53L572.57 311.49L569.37 311.49Z" fill="#00ff00"/>
<path d="M546.48 314.81L548.08 311.77L544.88 311.77Z" fill="#00ff00"/>
<path d="M571.91 308.67L573.51 305.63L570.31 305.63Z" fill="#00ff00"/>
<path d="M546.12 308.96L547.72 305.92L544.52 305.92Z" fill="#00ff00"/>
<path d="M572.84 302.81L574.44 299.77L571.24 299.77Z" fill="#00ff00"/>
<path d="M545.73 303.11L547.33 300.07L544.13 300.07Z" fill="#00ff00"/>
<path d="M573.78 296.95L575.38 293.91L572.18 293.91Z" fill="#00ff00"/>
<path d="M545.31 297.26L546.91 294.22L543.71 294.22Z" fill="#00ff00"/>
<path d="M574.72 291.08L576.32 288.04L573.12 288.04Z" fill="#00ff00"/>
<path d="M544.87 291.41L546.47 288.37L543.27 288.37Z" fill="#00ff00"/>
<path d="M575.65 285.22L577.25 282.18L574.05 282.18Z" fill="#00ff00"/>
<path d="M544.39 285.56L545.99 282.52L542.79 282.52Z" fill="#00ff00"/>
<path d="M576.59 279.35L578.19 276.31L574.99 276.31Z" fill="#00ff00"/>
<path d="M543.90 279.71L545.50 276.67L542.30 276.67Z" fill="#00ff00"/>
<path d="M577.53 273.48L579.13 270.44L575.93 270.44Z" fill="#00ff00"/>
<path d="M543.38 273.85L544.98 270.81L541.78 270.81Z" fill="#00ff00"/>
<path d="M578.46 267.61L580.06 264.57L576.86 264.57Z" fill="#00ff00"/>
<path d="M542.85 268.00L544.45 264.96L541.25 264.96Z" fill="#00ff00"/>
<path d="M579.40 261.74L581.00 258.70L577.80 258.70Z" fill="#00ff00"/>
<path d="M542.30 262.14L543.90 259.10L540.70 259.10Z" fill="#00ff00"/>
<rect x="606.3" y="255.3" width="52.2" height="47" fill="#fff" stroke="#a2a2a2" stroke-width="1"/>
<path d="M607.1 262H627.9" stroke="#000000" stroke-width="0.78"/>
<rect x="616.05" y="260.85" width="2.3" height="2.3" fill="#000000"/>
<text x="630" y="265.15" font-size="9.12">0</text>
<path d="M607.1 273.4H627.9" stroke="#ff0000" stroke-width="0.78"/>
<circle cx="617.20" cy="273.40" r="1.4" fill="#ff0000"/>
<text x="630" y="276.55" font-size="9.12">100kPa</text>
<path d="M607.1 284.6H627.9" stroke="#0000ff" stroke-width="0.78"/>
<path d="M617.20 282.76L618.80 285.80L615.60 285.80Z" fill="#0000ff"/>
<text x="630" y="287.75" font-size="9.12">200kPa</text>
<path d="M607.1 296H627.9" stroke="#00ff00" stroke-width="0.78"/>
<path d="M617.20 297.84L618.80 294.80L615.60 294.80Z" fill="#00ff00"/>
<text x="630" y="299.15" font-size="9.12">300kPa</text></g>
<g id="plot-e"><path d="M197.5 681H513.2M398.4 681V505" stroke="#6c6c6c" stroke-width="1.55" fill="none"/>
<path d="M197.5 681v2M226.2 681v3.4M254.9 681v2M283.6 681v3.4M312.3 681v2M341 681v3.4M369.7 681v2M398.4 681v3.4M427.1 681v2M455.8 681v3.4M484.5 681v2M513.2 681v3.4M398.4 681h-3.4M398.4 657.84h-2M398.4 634.67h-3.4M398.4 611.51h-2M398.4 588.35h-3.4M398.4 565.19h-2M398.4 542.02h-3.4M398.4 518.86h-2" stroke="#484848" stroke-width="1.1" fill="none"/>
<text x="226.2" y="693.6" class="t" font-size="7.5" text-anchor="middle">−3</text>
<text x="283.6" y="693.6" class="t" font-size="7.5" text-anchor="middle">−2</text>
<text x="341" y="693.6" class="t" font-size="7.5" text-anchor="middle">−1</text>
<text x="398.4" y="693.6" class="t" font-size="7.5" text-anchor="middle">0</text>
<text x="455.8" y="693.6" class="t" font-size="7.5" text-anchor="middle">1</text>
<text x="513.2" y="693.6" class="t" font-size="7.5" text-anchor="middle">2</text>
<text x="392.6" y="684.05" class="t" font-size="7.5" text-anchor="end">0</text>
<text x="392.6" y="637.72" class="t" font-size="7.5" text-anchor="end">50</text>
<text x="392.6" y="591.4" class="t" font-size="7.5" text-anchor="end">100</text>
<text x="392.6" y="545.07" class="t" font-size="7.5" text-anchor="end">150</text>
<text x="375.4" y="701.4" font-size="9.28" text-anchor="end">Radial strain/%</text>
<text x="428.6" y="701.6" font-size="9.28">Axial strain/%</text>
<text transform="translate(407.2 504.8) rotate(-90)" font-size="9.2" text-anchor="end">Stress/MPa</text>
<text x="370.3" y="721.4" font-size="12.8" text-anchor="middle">(e)</text>
<path d="M398.4 681L398.29 678.39L398.17 675.79L398.05 673.18L397.92 670.57L397.79 667.97L397.66 665.36L397.52 662.75L397.38 660.15L397.24 657.54L397.09 654.93L396.93 652.33L396.78 649.72L396.62 647.11L396.46 644.51L396.29 641.9L396.12 639.29L395.95 636.69L395.78 634.08L395.6 631.47L395.42 628.87L395.24 626.26L395.06 623.65L394.88 621.05L394.69 618.44L394.49 615.83L394.28 613.23L394.07 610.62L393.85 608.01L393.63 605.41L393.4 602.8L393.16 600.19L392.92 597.59L392.67 594.98L392.43 592.37L392.18 589.77L391.93 587.16L391.67 584.55L391.42 581.95L391.17 579.34L390.91 576.73L390.66 574.13L390.41 571.52L390.16 568.91L389.92 566.31L389.68 563.7L389.44 561.09L389.2 558.49L388.97 555.88L388.73 553.27L388.49 550.67L388.25 548.06L388.01 545.45L387.77 542.85L387.52 540.24L387.26 537.63L387 535.03L386.74 532.42L386.46 529.81L386.18 527.21L385.9 524.6L338.1 672.1" stroke="#000000" stroke-width="0.78" fill="none" stroke-linejoin="round"/>
<path d="M398.4 681L399.07 678.39L399.74 675.78L400.4 673.17L401.06 670.56L401.72 667.95L402.37 665.34L403.02 662.73L403.66 660.12L404.31 657.51L404.94 654.9L405.58 652.29L406.21 649.68L406.83 647.07L407.46 644.46L408.07 641.85L408.69 639.24L409.3 636.63L409.91 634.02L410.51 631.41L411.11 628.8L411.7 626.19L412.3 623.58L412.88 620.97L413.47 618.36L414.04 615.75L414.62 613.14L415.19 610.53L415.75 607.92L416.31 605.31L416.86 602.7L417.42 600.09L417.97 597.48L418.51 594.87L419.05 592.26L419.59 589.65L420.13 587.04L420.67 584.43L421.2 581.82L421.73 579.21L422.26 576.6L422.79 573.99L423.31 571.38L423.84 568.77L424.37 566.16L424.89 563.55L425.41 560.94L425.93 558.33L426.45 555.72L426.97 553.11L427.48 550.5L427.99 547.89L428.5 545.28L429.01 542.67L429.51 540.06L430.02 537.45L430.52 534.84L431.02 532.23L431.51 529.62L432.01 527.01L432.5 524.4L433.6 525.5L504.6 672.3" stroke="#000000" stroke-width="0.78" fill="none" stroke-linejoin="round"/>
<rect x="397.25" y="679.85" width="2.3" height="2.3" fill="#000000"/>
<rect x="397.25" y="679.85" width="2.3" height="2.3" fill="#000000"/>
<rect x="398.25" y="675.94" width="2.3" height="2.3" fill="#000000"/>
<rect x="397.08" y="675.95" width="2.3" height="2.3" fill="#000000"/>
<rect x="399.26" y="672.00" width="2.3" height="2.3" fill="#000000"/>
<rect x="396.90" y="672.01" width="2.3" height="2.3" fill="#000000"/>
<rect x="400.26" y="668.03" width="2.3" height="2.3" fill="#000000"/>
<rect x="396.71" y="668.05" width="2.3" height="2.3" fill="#000000"/>
<rect x="401.26" y="664.03" width="2.3" height="2.3" fill="#000000"/>
<rect x="396.50" y="664.05" width="2.3" height="2.3" fill="#000000"/>
<rect x="402.26" y="659.98" width="2.3" height="2.3" fill="#000000"/>
<rect x="396.29" y="660.01" width="2.3" height="2.3" fill="#000000"/>
<rect x="403.27" y="655.90" width="2.3" height="2.3" fill="#000000"/>
<rect x="396.06" y="655.94" width="2.3" height="2.3" fill="#000000"/>
<rect x="404.27" y="651.79" width="2.3" height="2.3" fill="#000000"/>
<rect x="395.82" y="651.82" width="2.3" height="2.3" fill="#000000"/>
<rect x="405.27" y="647.63" width="2.3" height="2.3" fill="#000000"/>
<rect x="395.57" y="647.67" width="2.3" height="2.3" fill="#000000"/>
<rect x="406.28" y="643.44" width="2.3" height="2.3" fill="#000000"/>
<rect x="395.32" y="643.48" width="2.3" height="2.3" fill="#000000"/>
<rect x="407.28" y="639.20" width="2.3" height="2.3" fill="#000000"/>
<rect x="395.05" y="639.25" width="2.3" height="2.3" fill="#000000"/>
<rect x="408.28" y="634.91" width="2.3" height="2.3" fill="#000000"/>
<rect x="394.77" y="634.97" width="2.3" height="2.3" fill="#000000"/>
<rect x="409.29" y="630.59" width="2.3" height="2.3" fill="#000000"/>
<rect x="394.48" y="630.65" width="2.3" height="2.3" fill="#000000"/>
<rect x="410.29" y="626.21" width="2.3" height="2.3" fill="#000000"/>
<rect x="394.18" y="626.28" width="2.3" height="2.3" fill="#000000"/>
<rect x="411.29" y="621.78" width="2.3" height="2.3" fill="#000000"/>
<rect x="393.86" y="621.86" width="2.3" height="2.3" fill="#000000"/>
<rect x="412.29" y="617.31" width="2.3" height="2.3" fill="#000000"/>
<rect x="393.54" y="617.39" width="2.3" height="2.3" fill="#000000"/>
<rect x="413.30" y="612.76" width="2.3" height="2.3" fill="#000000"/>
<rect x="393.20" y="612.85" width="2.3" height="2.3" fill="#000000"/>
<rect x="414.30" y="608.16" width="2.3" height="2.3" fill="#000000"/>
<rect x="392.82" y="608.25" width="2.3" height="2.3" fill="#000000"/>
<rect x="415.30" y="603.49" width="2.3" height="2.3" fill="#000000"/>
<rect x="392.42" y="603.58" width="2.3" height="2.3" fill="#000000"/>
<rect x="416.31" y="598.76" width="2.3" height="2.3" fill="#000000"/>
<rect x="391.99" y="598.86" width="2.3" height="2.3" fill="#000000"/>
<rect x="417.31" y="593.97" width="2.3" height="2.3" fill="#000000"/>
<rect x="391.55" y="594.08" width="2.3" height="2.3" fill="#000000"/>
<rect x="418.31" y="589.14" width="2.3" height="2.3" fill="#000000"/>
<rect x="391.09" y="589.25" width="2.3" height="2.3" fill="#000000"/>
<rect x="419.31" y="584.26" width="2.3" height="2.3" fill="#000000"/>
<rect x="390.62" y="584.39" width="2.3" height="2.3" fill="#000000"/>
<rect x="420.32" y="579.35" width="2.3" height="2.3" fill="#000000"/>
<rect x="390.14" y="579.48" width="2.3" height="2.3" fill="#000000"/>
<rect x="421.32" y="574.41" width="2.3" height="2.3" fill="#000000"/>
<rect x="389.66" y="574.54" width="2.3" height="2.3" fill="#000000"/>
<rect x="422.32" y="569.44" width="2.3" height="2.3" fill="#000000"/>
<rect x="389.19" y="569.58" width="2.3" height="2.3" fill="#000000"/>
<rect x="423.33" y="564.46" width="2.3" height="2.3" fill="#000000"/>
<rect x="388.72" y="564.61" width="2.3" height="2.3" fill="#000000"/>
<rect x="424.33" y="559.46" width="2.3" height="2.3" fill="#000000"/>
<rect x="388.26" y="559.62" width="2.3" height="2.3" fill="#000000"/>
<rect x="425.33" y="554.42" width="2.3" height="2.3" fill="#000000"/>
<rect x="387.80" y="554.58" width="2.3" height="2.3" fill="#000000"/>
<rect x="426.34" y="549.33" width="2.3" height="2.3" fill="#000000"/>
<rect x="387.34" y="549.50" width="2.3" height="2.3" fill="#000000"/>
<rect x="427.34" y="544.20" width="2.3" height="2.3" fill="#000000"/>
<rect x="386.87" y="544.37" width="2.3" height="2.3" fill="#000000"/>
<rect x="428.34" y="539.03" width="2.3" height="2.3" fill="#000000"/>
<rect x="386.38" y="539.21" width="2.3" height="2.3" fill="#000000"/>
<rect x="429.34" y="533.81" width="2.3" height="2.3" fill="#000000"/>
<rect x="385.86" y="534.00" width="2.3" height="2.3" fill="#000000"/>
<rect x="430.35" y="528.55" width="2.3" height="2.3" fill="#000000"/>
<rect x="385.32" y="528.75" width="2.3" height="2.3" fill="#000000"/>
<rect x="431.35" y="523.25" width="2.3" height="2.3" fill="#000000"/>
<rect x="384.75" y="523.45" width="2.3" height="2.3" fill="#000000"/>
<path d="M398.4 681L398.27 678.39L398.14 675.78L398.01 673.17L397.88 670.57L397.74 667.96L397.61 665.35L397.47 662.74L397.34 660.13L397.2 657.52L397.06 654.92L396.92 652.31L396.78 649.7L396.64 647.09L396.49 644.48L396.35 641.88L396.2 639.27L396.06 636.66L395.91 634.05L395.76 631.44L395.61 628.83L395.46 626.23L395.31 623.62L395.16 621.01L395 618.4L394.84 615.79L394.67 613.18L394.49 610.58L394.31 607.97L394.13 605.36L393.94 602.75L393.75 600.14L393.55 597.53L393.36 594.92L393.17 592.32L392.99 589.71L392.81 587.1L392.63 584.49L392.46 581.88L392.3 579.27L392.14 576.67L392 574.06L391.87 571.45L391.75 568.84L391.64 566.23L391.55 563.62L391.46 561.02L391.38 558.41L391.29 555.8L391.21 553.19L391.13 550.58L391.05 547.98L390.98 545.37L390.91 542.76L390.85 540.15L390.79 537.54L390.74 534.93L390.7 532.33L390.66 529.72L390.63 527.11L390.6 524.5L387 523.4L340.1 680.1" stroke="#ff0000" stroke-width="0.78" fill="none" stroke-linejoin="round"/>
<path d="M398.4 681L398.86 678.35L399.32 675.69L399.77 673.04L400.23 670.39L400.68 667.73L401.12 665.08L401.57 662.43L402.02 659.77L402.46 657.12L402.9 654.47L403.33 651.81L403.77 649.16L404.2 646.51L404.63 643.85L405.06 641.2L405.49 638.55L405.91 635.89L406.33 633.24L406.75 630.59L407.17 627.93L407.58 625.28L407.99 622.63L408.4 619.97L408.81 617.32L409.21 614.67L409.6 612.01L409.99 609.36L410.38 606.71L410.76 604.05L411.14 601.4L411.51 598.75L411.89 596.09L412.26 593.44L412.64 590.79L413.01 588.13L413.39 585.48L413.77 582.83L414.15 580.17L414.53 577.52L414.92 574.87L415.31 572.21L415.7 569.56L416.11 566.91L416.52 564.25L416.93 561.6L417.35 558.95L417.77 556.29L418.19 553.64L418.62 550.99L419.05 548.33L419.48 545.68L419.91 543.03L420.35 540.37L420.8 537.72L421.24 535.07L421.69 532.41L422.14 529.76L422.59 527.11L423.04 524.45L423.5 521.8L504.6 679.9" stroke="#ff0000" stroke-width="0.78" fill="none" stroke-linejoin="round"/>
<circle cx="398.40" cy="681.00" r="1.4" fill="#ff0000"/>
<circle cx="398.40" cy="681.00" r="1.4" fill="#ff0000"/>
<circle cx="399.40" cy="675.19" r="1.4" fill="#ff0000"/>
<circle cx="398.12" cy="675.29" r="1.4" fill="#ff0000"/>
<circle cx="400.41" cy="669.31" r="1.4" fill="#ff0000"/>
<circle cx="397.82" cy="669.51" r="1.4" fill="#ff0000"/>
<circle cx="401.41" cy="663.37" r="1.4" fill="#ff0000"/>
<circle cx="397.52" cy="663.67" r="1.4" fill="#ff0000"/>
<circle cx="402.42" cy="657.37" r="1.4" fill="#ff0000"/>
<circle cx="397.21" cy="657.77" r="1.4" fill="#ff0000"/>
<circle cx="403.42" cy="651.29" r="1.4" fill="#ff0000"/>
<circle cx="396.89" cy="651.80" r="1.4" fill="#ff0000"/>
<circle cx="404.42" cy="645.14" r="1.4" fill="#ff0000"/>
<circle cx="396.56" cy="645.75" r="1.4" fill="#ff0000"/>
<circle cx="405.43" cy="638.92" r="1.4" fill="#ff0000"/>
<circle cx="396.22" cy="639.63" r="1.4" fill="#ff0000"/>
<circle cx="406.43" cy="632.61" r="1.4" fill="#ff0000"/>
<circle cx="395.87" cy="633.43" r="1.4" fill="#ff0000"/>
<circle cx="407.44" cy="626.22" r="1.4" fill="#ff0000"/>
<circle cx="395.52" cy="627.15" r="1.4" fill="#ff0000"/>
<circle cx="408.44" cy="619.74" r="1.4" fill="#ff0000"/>
<circle cx="395.15" cy="620.78" r="1.4" fill="#ff0000"/>
<circle cx="409.44" cy="613.08" r="1.4" fill="#ff0000"/>
<circle cx="394.74" cy="614.24" r="1.4" fill="#ff0000"/>
<circle cx="410.45" cy="606.21" r="1.4" fill="#ff0000"/>
<circle cx="394.28" cy="607.48" r="1.4" fill="#ff0000"/>
<circle cx="411.45" cy="599.18" r="1.4" fill="#ff0000"/>
<circle cx="393.78" cy="600.57" r="1.4" fill="#ff0000"/>
<circle cx="412.46" cy="592.07" r="1.4" fill="#ff0000"/>
<circle cx="393.26" cy="593.58" r="1.4" fill="#ff0000"/>
<circle cx="413.46" cy="584.97" r="1.4" fill="#ff0000"/>
<circle cx="392.77" cy="586.60" r="1.4" fill="#ff0000"/>
<circle cx="414.46" cy="577.97" r="1.4" fill="#ff0000"/>
<circle cx="392.32" cy="579.71" r="1.4" fill="#ff0000"/>
<circle cx="415.47" cy="571.14" r="1.4" fill="#ff0000"/>
<circle cx="391.95" cy="573.00" r="1.4" fill="#ff0000"/>
<circle cx="416.47" cy="564.53" r="1.4" fill="#ff0000"/>
<circle cx="391.66" cy="566.51" r="1.4" fill="#ff0000"/>
<circle cx="417.48" cy="558.12" r="1.4" fill="#ff0000"/>
<circle cx="391.44" cy="560.21" r="1.4" fill="#ff0000"/>
<circle cx="418.48" cy="551.83" r="1.4" fill="#ff0000"/>
<circle cx="391.23" cy="554.02" r="1.4" fill="#ff0000"/>
<circle cx="419.48" cy="545.65" r="1.4" fill="#ff0000"/>
<circle cx="391.05" cy="547.94" r="1.4" fill="#ff0000"/>
<circle cx="420.49" cy="539.56" r="1.4" fill="#ff0000"/>
<circle cx="390.89" cy="541.96" r="1.4" fill="#ff0000"/>
<circle cx="421.49" cy="533.57" r="1.4" fill="#ff0000"/>
<circle cx="390.76" cy="536.07" r="1.4" fill="#ff0000"/>
<circle cx="422.50" cy="527.65" r="1.4" fill="#ff0000"/>
<circle cx="390.66" cy="530.25" r="1.4" fill="#ff0000"/>
<circle cx="423.50" cy="521.80" r="1.4" fill="#ff0000"/>
<circle cx="390.60" cy="524.50" r="1.4" fill="#ff0000"/>
<path d="M398.4 681L398.32 678.33L398.24 675.66L398.15 673L398.06 670.33L397.97 667.66L397.88 664.99L397.78 662.32L397.68 659.65L397.57 656.99L397.47 654.32L397.36 651.65L397.25 648.98L397.13 646.31L397.02 643.64L396.9 640.98L396.78 638.31L396.65 635.64L396.53 632.97L396.4 630.3L396.28 627.63L396.15 624.97L396.01 622.3L395.88 619.63L395.74 616.96L395.6 614.29L395.46 611.62L395.31 608.95L395.15 606.29L395 603.62L394.84 600.95L394.67 598.28L394.5 595.61L394.33 592.94L394.16 590.28L393.98 587.61L393.8 584.94L393.62 582.27L393.44 579.6L393.25 576.93L393.06 574.27L392.87 571.6L392.68 568.93L392.49 566.26L392.3 563.59L392.1 560.92L391.91 558.26L391.71 555.59L391.51 552.92L391.3 550.25L391.09 547.58L390.87 544.91L390.65 542.25L390.41 539.58L390.17 536.91L389.92 534.24L389.66 531.57L389.37 528.9L389.06 526.24L388.73 523.57L388.4 520.9L245.2 636.9" stroke="#0000ff" stroke-width="0.78" fill="none" stroke-linejoin="round"/>
<path d="M398.4 681L399.06 678.34L399.72 675.68L400.38 673.01L401.02 670.35L401.67 667.69L402.31 665.03L402.94 662.37L403.57 659.71L404.19 657.04L404.81 654.38L405.42 651.72L406.03 649.06L406.63 646.4L407.23 643.74L407.82 641.08L408.4 638.41L408.98 635.75L409.56 633.09L410.13 630.43L410.69 627.77L411.25 625.11L411.8 622.44L412.34 619.78L412.88 617.12L413.41 614.46L413.92 611.8L414.42 609.13L414.92 606.47L415.41 603.81L415.9 601.15L416.38 598.49L416.85 595.83L417.33 593.16L417.8 590.5L418.27 587.84L418.75 585.18L419.22 582.52L419.7 579.86L420.19 577.19L420.68 574.53L421.18 571.87L421.68 569.21L422.2 566.55L422.72 563.89L423.25 561.22L423.79 558.56L424.33 555.9L424.87 553.24L425.42 550.58L425.97 547.92L426.53 545.25L427.09 542.59L427.65 539.93L428.22 537.27L428.79 534.61L429.37 531.95L429.94 529.28L430.53 526.62L431.11 523.96L431.7 521.3L479.2 636.5" stroke="#0000ff" stroke-width="0.78" fill="none" stroke-linejoin="round"/>
<path d="M398.40 679.16L400.00 682.20L396.80 682.20Z" fill="#0000ff"/>
<path d="M398.40 679.16L400.00 682.20L396.80 682.20Z" fill="#0000ff"/>
<path d="M399.41 675.10L401.01 678.14L397.81 678.14Z" fill="#0000ff"/>
<path d="M398.28 675.09L399.88 678.13L396.68 678.13Z" fill="#0000ff"/>
<path d="M400.42 671.00L402.02 674.04L398.82 674.04Z" fill="#0000ff"/>
<path d="M398.15 670.98L399.75 674.02L396.55 674.02Z" fill="#0000ff"/>
<path d="M401.43 666.85L403.03 669.89L399.83 669.89Z" fill="#0000ff"/>
<path d="M398.01 666.82L399.61 669.86L396.41 669.86Z" fill="#0000ff"/>
<path d="M402.44 662.65L404.04 665.69L400.84 665.69Z" fill="#0000ff"/>
<path d="M397.86 662.60L399.46 665.64L396.26 665.64Z" fill="#0000ff"/>
<path d="M403.45 658.39L405.05 661.43L401.85 661.43Z" fill="#0000ff"/>
<path d="M397.70 658.34L399.30 661.38L396.10 661.38Z" fill="#0000ff"/>
<path d="M404.45 654.07L406.05 657.11L402.85 657.11Z" fill="#0000ff"/>
<path d="M397.53 654.01L399.13 657.05L395.93 657.05Z" fill="#0000ff"/>
<path d="M405.46 649.70L407.06 652.74L403.86 652.74Z" fill="#0000ff"/>
<path d="M397.35 649.62L398.95 652.66L395.75 652.66Z" fill="#0000ff"/>
<path d="M406.47 645.26L408.07 648.30L404.87 648.30Z" fill="#0000ff"/>
<path d="M397.16 645.18L398.76 648.22L395.56 648.22Z" fill="#0000ff"/>
<path d="M407.48 640.75L409.08 643.79L405.88 643.79Z" fill="#0000ff"/>
<path d="M396.97 640.66L398.57 643.70L395.37 643.70Z" fill="#0000ff"/>
<path d="M408.49 636.18L410.09 639.22L406.89 639.22Z" fill="#0000ff"/>
<path d="M396.76 636.07L398.36 639.11L395.16 639.11Z" fill="#0000ff"/>
<path d="M409.50 631.52L411.10 634.56L407.90 634.56Z" fill="#0000ff"/>
<path d="M396.54 631.40L398.14 634.44L394.94 634.44Z" fill="#0000ff"/>
<path d="M410.51 626.78L412.11 629.82L408.91 629.82Z" fill="#0000ff"/>
<path d="M396.32 626.65L397.92 629.69L394.72 629.69Z" fill="#0000ff"/>
<path d="M411.52 621.96L413.12 625.00L409.92 625.00Z" fill="#0000ff"/>
<path d="M396.08 621.82L397.68 624.86L394.48 624.86Z" fill="#0000ff"/>
<path d="M412.53 617.04L414.13 620.08L410.93 620.08Z" fill="#0000ff"/>
<path d="M395.84 616.89L397.44 619.93L394.24 619.93Z" fill="#0000ff"/>
<path d="M413.54 611.94L415.14 614.98L411.94 614.98Z" fill="#0000ff"/>
<path d="M395.57 611.78L397.17 614.82L393.97 614.82Z" fill="#0000ff"/>
<path d="M414.55 606.65L416.15 609.69L412.95 609.69Z" fill="#0000ff"/>
<path d="M395.27 606.47L396.87 609.51L393.67 609.51Z" fill="#0000ff"/>
<path d="M415.55 601.19L417.15 604.23L413.95 604.23Z" fill="#0000ff"/>
<path d="M394.95 600.99L396.55 604.03L393.35 604.03Z" fill="#0000ff"/>
<path d="M416.56 595.60L418.16 598.64L414.96 598.64Z" fill="#0000ff"/>
<path d="M394.60 595.39L396.20 598.43L393.00 598.43Z" fill="#0000ff"/>
<path d="M417.57 589.94L419.17 592.98L415.97 592.98Z" fill="#0000ff"/>
<path d="M394.24 589.71L395.84 592.75L392.64 592.75Z" fill="#0000ff"/>
<path d="M418.58 584.26L420.18 587.30L416.98 587.30Z" fill="#0000ff"/>
<path d="M393.86 584.02L395.46 587.06L392.26 587.06Z" fill="#0000ff"/>
<path d="M419.59 578.63L421.19 581.67L417.99 581.67Z" fill="#0000ff"/>
<path d="M393.48 578.38L395.08 581.42L391.88 581.42Z" fill="#0000ff"/>
<path d="M420.60 573.11L422.20 576.15L419.00 576.15Z" fill="#0000ff"/>
<path d="M393.09 572.85L394.69 575.89L391.49 575.89Z" fill="#0000ff"/>
<path d="M421.61 567.75L423.21 570.79L420.01 570.79Z" fill="#0000ff"/>
<path d="M392.71 567.47L394.31 570.51L391.11 570.51Z" fill="#0000ff"/>
<path d="M422.62 562.56L424.22 565.60L421.02 565.60Z" fill="#0000ff"/>
<path d="M392.34 562.27L393.94 565.31L390.74 565.31Z" fill="#0000ff"/>
<path d="M423.63 557.51L425.23 560.55L422.03 560.55Z" fill="#0000ff"/>
<path d="M391.97 557.21L393.57 560.25L390.37 560.25Z" fill="#0000ff"/>
<path d="M424.64 552.54L426.24 555.58L423.04 555.58Z" fill="#0000ff"/>
<path d="M391.60 552.22L393.20 555.26L390.00 555.26Z" fill="#0000ff"/>
<path d="M425.65 547.64L427.25 550.68L424.05 550.68Z" fill="#0000ff"/>
<path d="M391.22 547.31L392.82 550.35L389.62 550.35Z" fill="#0000ff"/>
<path d="M426.65 542.80L428.25 545.84L425.05 545.84Z" fill="#0000ff"/>
<path d="M390.82 542.46L392.42 545.50L389.22 545.50Z" fill="#0000ff"/>
<path d="M427.66 538.03L429.26 541.07L426.06 541.07Z" fill="#0000ff"/>
<path d="M390.41 537.68L392.01 540.72L388.81 540.72Z" fill="#0000ff"/>
<path d="M428.67 533.32L430.27 536.36L427.07 536.36Z" fill="#0000ff"/>
<path d="M389.97 532.95L391.57 535.99L388.37 535.99Z" fill="#0000ff"/>
<path d="M429.68 528.65L431.28 531.69L428.08 531.69Z" fill="#0000ff"/>
<path d="M389.50 528.27L391.10 531.31L387.90 531.31Z" fill="#0000ff"/>
<path d="M430.69 524.03L432.29 527.07L429.09 527.07Z" fill="#0000ff"/>
<path d="M388.97 523.65L390.57 526.69L387.37 526.69Z" fill="#0000ff"/>
<path d="M431.70 519.46L433.30 522.50L430.10 522.50Z" fill="#0000ff"/>
<path d="M388.40 519.06L390.00 522.10L386.80 522.10Z" fill="#0000ff"/>
<path d="M245.60 634.76L247.20 637.80L244.00 637.80Z" fill="#0000ff"/>
<path d="M478.90 634.36L480.50 637.40L477.30 637.40Z" fill="#0000ff"/>
<path d="M398.4 681L398.37 678.49L398.34 675.98L398.31 673.47L398.28 670.95L398.25 668.44L398.21 665.93L398.18 663.42L398.14 660.91L398.1 658.39L398.06 655.88L398.02 653.37L397.98 650.86L397.94 648.35L397.9 645.84L397.85 643.33L397.81 640.81L397.76 638.3L397.71 635.79L397.66 633.28L397.62 630.77L397.57 628.25L397.52 625.74L397.47 623.23L397.41 620.72L397.36 618.21L397.31 615.7L397.25 613.18L397.19 610.67L397.13 608.16L397.06 605.65L397 603.14L396.93 600.63L396.86 598.12L396.79 595.6L396.72 593.09L396.65 590.58L396.57 588.07L396.5 585.56L396.43 583.04L396.35 580.53L396.28 578.02L396.2 575.51L396.13 573L396.06 570.49L395.98 567.97L395.91 565.46L395.84 562.95L395.77 560.44L395.7 557.93L395.63 555.42L395.56 552.9L395.48 550.39L395.41 547.88L395.34 545.37L395.27 542.86L395.19 540.35L395.12 537.83L395.05 535.32L394.97 532.81L394.9 530.3L394.7 527.2L384.4 515.1L383.2 510.8L226.4 632.4" stroke="#00ff00" stroke-width="0.78" fill="none" stroke-linejoin="round"/>
<path d="M398.4 681L398.73 678.49L399.07 675.98L399.4 673.47L399.73 670.95L400.06 668.44L400.38 665.93L400.71 663.42L401.03 660.91L401.36 658.39L401.68 655.88L402 653.37L402.31 650.86L402.63 648.35L402.95 645.84L403.26 643.33L403.57 640.81L403.88 638.3L404.19 635.79L404.5 633.28L404.8 630.77L405.11 628.25L405.41 625.74L405.71 623.23L406.01 620.72L406.31 618.21L406.61 615.7L406.9 613.18L407.19 610.67L407.47 608.16L407.76 605.65L408.04 603.14L408.32 600.63L408.6 598.12L408.88 595.6L409.16 593.09L409.44 590.58L409.71 588.07L409.99 585.56L410.27 583.04L410.55 580.53L410.83 578.02L411.11 575.51L411.39 573L411.67 570.49L411.96 567.97L412.25 565.46L412.54 562.95L412.83 560.44L413.12 557.93L413.42 555.42L413.71 552.9L414.01 550.39L414.3 547.88L414.6 545.37L414.9 542.86L415.2 540.35L415.5 537.83L415.8 535.32L416.1 532.81L416.4 530.3L416.9 514.3L417.5 510.4L459.8 632.2" stroke="#00ff00" stroke-width="0.78" fill="none" stroke-linejoin="round"/>
<path d="M398.40 682.84L400.00 679.80L396.80 679.80Z" fill="#00ff00"/>
<path d="M398.40 682.84L400.00 679.80L396.80 679.80Z" fill="#00ff00"/>
<path d="M399.40 675.29L401.00 672.25L397.80 672.25Z" fill="#00ff00"/>
<path d="M398.31 675.29L399.91 672.25L396.71 672.25Z" fill="#00ff00"/>
<path d="M400.40 667.64L402.00 664.60L398.80 664.60Z" fill="#00ff00"/>
<path d="M398.21 667.64L399.81 664.60L396.61 664.60Z" fill="#00ff00"/>
<path d="M401.40 659.89L403.00 656.85L399.80 656.85Z" fill="#00ff00"/>
<path d="M398.10 659.89L399.70 656.85L396.50 656.85Z" fill="#00ff00"/>
<path d="M402.40 652.02L404.00 648.98L400.80 648.98Z" fill="#00ff00"/>
<path d="M397.97 652.02L399.57 648.98L396.37 648.98Z" fill="#00ff00"/>
<path d="M403.40 644.03L405.00 640.99L401.80 640.99Z" fill="#00ff00"/>
<path d="M397.83 644.03L399.43 640.99L396.23 640.99Z" fill="#00ff00"/>
<path d="M404.40 635.93L406.00 632.89L402.80 632.89Z" fill="#00ff00"/>
<path d="M397.68 635.93L399.28 632.89L396.08 632.89Z" fill="#00ff00"/>
<path d="M405.40 627.69L407.00 624.65L403.80 624.65Z" fill="#00ff00"/>
<path d="M397.52 627.69L399.12 624.65L395.92 624.65Z" fill="#00ff00"/>
<path d="M406.40 619.30L408.00 616.26L404.80 616.26Z" fill="#00ff00"/>
<path d="M397.35 619.30L398.95 616.26L395.75 616.26Z" fill="#00ff00"/>
<path d="M407.40 610.66L409.00 607.62L405.80 607.62Z" fill="#00ff00"/>
<path d="M397.14 610.66L398.74 607.62L395.54 607.62Z" fill="#00ff00"/>
<path d="M408.40 601.77L410.00 598.73L406.80 598.73Z" fill="#00ff00"/>
<path d="M396.91 601.77L398.51 598.73L395.31 598.73Z" fill="#00ff00"/>
<path d="M409.40 592.74L411.00 589.70L407.80 589.70Z" fill="#00ff00"/>
<path d="M396.66 592.74L398.26 589.70L395.06 589.70Z" fill="#00ff00"/>
<path d="M410.40 583.69L412.00 580.65L408.80 580.65Z" fill="#00ff00"/>
<path d="M396.39 583.69L397.99 580.65L394.79 580.65Z" fill="#00ff00"/>
<path d="M411.40 574.73L413.00 571.69L409.80 571.69Z" fill="#00ff00"/>
<path d="M396.13 574.73L397.73 571.69L394.53 571.69Z" fill="#00ff00"/>
<path d="M412.40 565.98L414.00 562.94L410.80 562.94Z" fill="#00ff00"/>
<path d="M395.88 565.98L397.48 562.94L394.28 562.94Z" fill="#00ff00"/>
<path d="M413.40 557.39L415.00 554.35L411.80 554.35Z" fill="#00ff00"/>
<path d="M395.63 557.39L397.23 554.35L394.03 554.35Z" fill="#00ff00"/>
<path d="M414.40 548.90L416.00 545.86L412.80 545.86Z" fill="#00ff00"/>
<path d="M395.39 548.90L396.99 545.86L393.79 545.86Z" fill="#00ff00"/>
<path d="M415.40 540.48L417.00 537.44L413.80 537.44Z" fill="#00ff00"/>
<path d="M395.14 540.48L396.74 537.44L393.54 537.44Z" fill="#00ff00"/>
<path d="M416.40 532.14L418.00 529.10L414.80 529.10Z" fill="#00ff00"/>
<path d="M394.90 532.14L396.50 529.10L393.30 529.10Z" fill="#00ff00"/>
<rect x="449.3" y="502.4" width="52.5" height="46.2" fill="#fff" stroke="#a2a2a2" stroke-width="1"/>
<path d="M450.4 509H470.6" stroke="#000000" stroke-width="0.78"/>
<rect x="459.65" y="507.85" width="2.3" height="2.3" fill="#000000"/>
<text x="472.9" y="512.15" font-size="9.12">0</text>
<path d="M450.4 520.2H470.6" stroke="#ff0000" stroke-width="0.78"/>
<circle cx="460.80" cy="520.20" r="1.4" fill="#ff0000"/>
<text x="472.9" y="523.35" font-size="9.12">100kPa</text>
<path d="M450.4 531.4H470.6" stroke="#0000ff" stroke-width="0.78"/>
<path d="M460.80 529.56L462.40 532.60L459.20 532.60Z" fill="#0000ff"/>
<text x="472.9" y="534.55" font-size="9.12">200kPa</text>
<path d="M450.4 542.7H470.6" stroke="#00ff00" stroke-width="0.78"/>
<path d="M460.80 544.54L462.40 541.50L459.20 541.50Z" fill="#00ff00"/>
<text x="472.9" y="545.85" font-size="9.12">300kPa</text></g>
</svg>
</body></html>
